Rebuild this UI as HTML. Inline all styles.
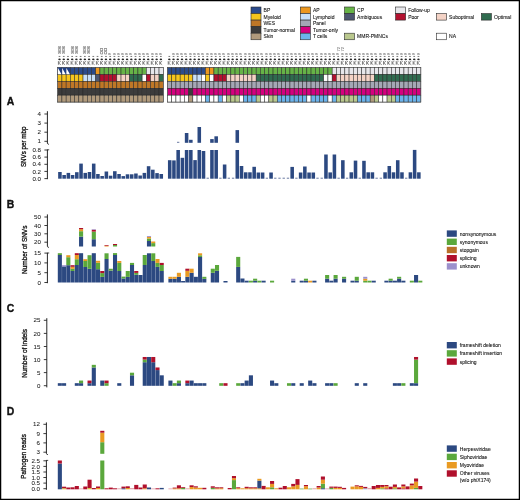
<!DOCTYPE html>
<html><head><meta charset="utf-8"><style>
html,body{margin:0;padding:0;background:#fff;}
body{width:520px;height:500px;overflow:hidden;position:relative;}
svg{position:absolute;left:0;top:0;display:block;will-change:transform;}
text{font-family:"Liberation Sans", sans-serif;}
</style></head><body>
<svg width="520" height="500" viewBox="0 0 520 500" font-family="Liberation Sans, sans-serif">
<rect x="0" y="0" width="520" height="500" fill="#fff"/>
<rect x="251.00" y="7.00" width="10.00" height="6.55" fill="#2b4b8c" stroke="#2a2a2a" stroke-width="0.6"/>
<text transform="translate(263.60,12.15) scale(0.88,1)" font-size="5.7" text-anchor="start" fill="#111" stroke="#111" stroke-width="0.09" font-weight="normal">BP</text>
<rect x="251.00" y="13.55" width="10.00" height="6.55" fill="#f5c51c" stroke="#2a2a2a" stroke-width="0.6"/>
<text transform="translate(263.60,18.70) scale(0.88,1)" font-size="5.7" text-anchor="start" fill="#111" stroke="#111" stroke-width="0.09" font-weight="normal">Myeloid</text>
<rect x="251.00" y="20.10" width="10.00" height="6.55" fill="#bf7726" stroke="#2a2a2a" stroke-width="0.6"/>
<text transform="translate(263.60,25.25) scale(0.88,1)" font-size="5.7" text-anchor="start" fill="#111" stroke="#111" stroke-width="0.09" font-weight="normal">WES</text>
<rect x="251.00" y="26.65" width="10.00" height="6.55" fill="#3c3c3c" stroke="#2a2a2a" stroke-width="0.6"/>
<text transform="translate(263.60,31.80) scale(0.88,1)" font-size="5.7" text-anchor="start" fill="#111" stroke="#111" stroke-width="0.09" font-weight="normal">Tumor-normal</text>
<rect x="251.00" y="33.20" width="10.00" height="6.55" fill="#b09a7c" stroke="#2a2a2a" stroke-width="0.6"/>
<text transform="translate(263.60,38.35) scale(0.88,1)" font-size="5.7" text-anchor="start" fill="#111" stroke="#111" stroke-width="0.09" font-weight="normal">Skin</text>
<rect x="300.30" y="7.00" width="10.00" height="6.55" fill="#ec971f" stroke="#2a2a2a" stroke-width="0.6"/>
<text transform="translate(312.90,12.15) scale(0.88,1)" font-size="5.7" text-anchor="start" fill="#111" stroke="#111" stroke-width="0.09" font-weight="normal">AP</text>
<rect x="300.30" y="13.55" width="10.00" height="6.55" fill="#c8e0f8" stroke="#2a2a2a" stroke-width="0.6"/>
<text transform="translate(312.90,18.70) scale(0.88,1)" font-size="5.7" text-anchor="start" fill="#111" stroke="#111" stroke-width="0.09" font-weight="normal">Lymphoid</text>
<rect x="300.30" y="20.10" width="10.00" height="6.55" fill="#a4a7b5" stroke="#2a2a2a" stroke-width="0.6"/>
<text transform="translate(312.90,25.25) scale(0.88,1)" font-size="5.7" text-anchor="start" fill="#111" stroke="#111" stroke-width="0.09" font-weight="normal">Panel</text>
<rect x="300.30" y="26.65" width="10.00" height="6.55" fill="#d5007f" stroke="#2a2a2a" stroke-width="0.6"/>
<text transform="translate(312.90,31.80) scale(0.88,1)" font-size="5.7" text-anchor="start" fill="#111" stroke="#111" stroke-width="0.09" font-weight="normal">Tumor-only</text>
<rect x="300.30" y="33.20" width="10.00" height="6.55" fill="#6cb3eb" stroke="#2a2a2a" stroke-width="0.6"/>
<text transform="translate(312.90,38.35) scale(0.88,1)" font-size="5.7" text-anchor="start" fill="#111" stroke="#111" stroke-width="0.09" font-weight="normal">T cells</text>
<rect x="344.50" y="7.00" width="10.00" height="6.55" fill="#66b347" stroke="#2a2a2a" stroke-width="0.6"/>
<text transform="translate(357.10,12.15) scale(0.88,1)" font-size="5.7" text-anchor="start" fill="#111" stroke="#111" stroke-width="0.09" font-weight="normal">CP</text>
<rect x="344.50" y="13.55" width="10.00" height="6.55" fill="#4c5670" stroke="#2a2a2a" stroke-width="0.6"/>
<text transform="translate(357.10,18.70) scale(0.88,1)" font-size="5.7" text-anchor="start" fill="#111" stroke="#111" stroke-width="0.09" font-weight="normal">Ambiguous</text>
<rect x="344.50" y="33.20" width="10.00" height="6.55" fill="#bac88e" stroke="#2a2a2a" stroke-width="0.6"/>
<text transform="translate(357.10,38.35) scale(0.88,1)" font-size="5.7" text-anchor="start" fill="#111" stroke="#111" stroke-width="0.09" font-weight="normal">MMR-PMNCs</text>
<rect x="395.60" y="7.00" width="10.00" height="6.55" fill="#e7e7eb" stroke="#2a2a2a" stroke-width="0.6"/>
<text transform="translate(408.20,12.15) scale(0.88,1)" font-size="5.7" text-anchor="start" fill="#111" stroke="#111" stroke-width="0.09" font-weight="normal">Follow-up</text>
<rect x="395.60" y="13.55" width="10.00" height="6.55" fill="#b3102f" stroke="#2a2a2a" stroke-width="0.6"/>
<text transform="translate(408.20,18.70) scale(0.88,1)" font-size="5.7" text-anchor="start" fill="#111" stroke="#111" stroke-width="0.09" font-weight="normal">Poor</text>
<rect x="436.50" y="13.55" width="10.00" height="6.55" fill="#f4d3c6" stroke="#2a2a2a" stroke-width="0.6"/>
<text transform="translate(449.10,18.70) scale(0.88,1)" font-size="5.7" text-anchor="start" fill="#111" stroke="#111" stroke-width="0.09" font-weight="normal">Suboptimal</text>
<rect x="481.40" y="13.55" width="10.00" height="6.55" fill="#2f6b4f" stroke="#2a2a2a" stroke-width="0.6"/>
<text transform="translate(494.00,18.70) scale(0.88,1)" font-size="5.7" text-anchor="start" fill="#111" stroke="#111" stroke-width="0.09" font-weight="normal">Optimal</text>
<rect x="436.50" y="33.20" width="10.00" height="6.55" fill="#ffffff" stroke="#2a2a2a" stroke-width="0.6"/>
<text transform="translate(449.10,38.35) scale(0.88,1)" font-size="5.7" text-anchor="start" fill="#111" stroke="#111" stroke-width="0.09" font-weight="normal">NA</text>
<rect x="57.70" y="67.50" width="4.22" height="6.92" fill="#2b4b8c" stroke="#262626" stroke-width="0.5"/>
<rect x="61.92" y="67.50" width="4.22" height="6.92" fill="#2b4b8c" stroke="#262626" stroke-width="0.5"/>
<rect x="66.15" y="67.50" width="4.22" height="6.92" fill="#2b4b8c" stroke="#262626" stroke-width="0.5"/>
<rect x="70.37" y="67.50" width="4.22" height="6.92" fill="#2b4b8c" stroke="#262626" stroke-width="0.5"/>
<rect x="74.59" y="67.50" width="4.22" height="6.92" fill="#2b4b8c" stroke="#262626" stroke-width="0.5"/>
<rect x="78.81" y="67.50" width="4.22" height="6.92" fill="#2b4b8c" stroke="#262626" stroke-width="0.5"/>
<rect x="83.03" y="67.50" width="4.22" height="6.92" fill="#2b4b8c" stroke="#262626" stroke-width="0.5"/>
<rect x="87.26" y="67.50" width="4.22" height="6.92" fill="#2b4b8c" stroke="#262626" stroke-width="0.5"/>
<rect x="91.48" y="67.50" width="4.22" height="6.92" fill="#2b4b8c" stroke="#262626" stroke-width="0.5"/>
<rect x="95.70" y="67.50" width="4.22" height="6.92" fill="#ec971f" stroke="#262626" stroke-width="0.5"/>
<rect x="99.93" y="67.50" width="4.22" height="6.92" fill="#66b347" stroke="#262626" stroke-width="0.5"/>
<rect x="104.15" y="67.50" width="4.22" height="6.92" fill="#66b347" stroke="#262626" stroke-width="0.5"/>
<rect x="108.37" y="67.50" width="4.22" height="6.92" fill="#66b347" stroke="#262626" stroke-width="0.5"/>
<rect x="112.59" y="67.50" width="4.22" height="6.92" fill="#66b347" stroke="#262626" stroke-width="0.5"/>
<rect x="116.81" y="67.50" width="4.22" height="6.92" fill="#66b347" stroke="#262626" stroke-width="0.5"/>
<rect x="121.04" y="67.50" width="4.22" height="6.92" fill="#66b347" stroke="#262626" stroke-width="0.5"/>
<rect x="125.26" y="67.50" width="4.22" height="6.92" fill="#66b347" stroke="#262626" stroke-width="0.5"/>
<rect x="129.48" y="67.50" width="4.22" height="6.92" fill="#66b347" stroke="#262626" stroke-width="0.5"/>
<rect x="133.70" y="67.50" width="4.22" height="6.92" fill="#66b347" stroke="#262626" stroke-width="0.5"/>
<rect x="137.93" y="67.50" width="4.22" height="6.92" fill="#66b347" stroke="#262626" stroke-width="0.5"/>
<rect x="142.15" y="67.50" width="4.22" height="6.92" fill="#66b347" stroke="#262626" stroke-width="0.5"/>
<rect x="146.37" y="67.50" width="4.22" height="6.92" fill="#e7e7eb" stroke="#262626" stroke-width="0.5"/>
<rect x="150.60" y="67.50" width="4.22" height="6.92" fill="#e7e7eb" stroke="#262626" stroke-width="0.5"/>
<rect x="154.82" y="67.50" width="4.22" height="6.92" fill="#e7e7eb" stroke="#262626" stroke-width="0.5"/>
<rect x="159.04" y="67.50" width="4.22" height="6.92" fill="#e7e7eb" stroke="#262626" stroke-width="0.5"/>
<rect x="57.70" y="74.42" width="4.22" height="6.92" fill="#f5c51c" stroke="#262626" stroke-width="0.5"/>
<rect x="61.92" y="74.42" width="4.22" height="6.92" fill="#f5c51c" stroke="#262626" stroke-width="0.5"/>
<rect x="66.15" y="74.42" width="4.22" height="6.92" fill="#f5c51c" stroke="#262626" stroke-width="0.5"/>
<rect x="70.37" y="74.42" width="4.22" height="6.92" fill="#f5c51c" stroke="#262626" stroke-width="0.5"/>
<rect x="74.59" y="74.42" width="4.22" height="6.92" fill="#f5c51c" stroke="#262626" stroke-width="0.5"/>
<rect x="78.81" y="74.42" width="4.22" height="6.92" fill="#f5c51c" stroke="#262626" stroke-width="0.5"/>
<rect x="83.03" y="74.42" width="4.22" height="6.92" fill="#c8e0f8" stroke="#262626" stroke-width="0.5"/>
<rect x="87.26" y="74.42" width="4.22" height="6.92" fill="#c8e0f8" stroke="#262626" stroke-width="0.5"/>
<rect x="91.48" y="74.42" width="4.22" height="6.92" fill="#c8e0f8" stroke="#262626" stroke-width="0.5"/>
<rect x="95.70" y="74.42" width="4.22" height="6.92" fill="#4c5670" stroke="#262626" stroke-width="0.5"/>
<rect x="99.93" y="74.42" width="4.22" height="6.92" fill="#b3102f" stroke="#262626" stroke-width="0.5"/>
<rect x="104.15" y="74.42" width="4.22" height="6.92" fill="#b3102f" stroke="#262626" stroke-width="0.5"/>
<rect x="108.37" y="74.42" width="4.22" height="6.92" fill="#b3102f" stroke="#262626" stroke-width="0.5"/>
<rect x="112.59" y="74.42" width="4.22" height="6.92" fill="#b3102f" stroke="#262626" stroke-width="0.5"/>
<rect x="116.81" y="74.42" width="4.22" height="6.92" fill="#f4d3c6" stroke="#262626" stroke-width="0.5"/>
<rect x="121.04" y="74.42" width="4.22" height="6.92" fill="#f4d3c6" stroke="#262626" stroke-width="0.5"/>
<rect x="125.26" y="74.42" width="4.22" height="6.92" fill="#f4d3c6" stroke="#262626" stroke-width="0.5"/>
<rect x="129.48" y="74.42" width="4.22" height="6.92" fill="#2f6b4f" stroke="#262626" stroke-width="0.5"/>
<rect x="133.70" y="74.42" width="4.22" height="6.92" fill="#2f6b4f" stroke="#262626" stroke-width="0.5"/>
<rect x="137.93" y="74.42" width="4.22" height="6.92" fill="#2f6b4f" stroke="#262626" stroke-width="0.5"/>
<rect x="142.15" y="74.42" width="4.22" height="6.92" fill="#ffffff" stroke="#262626" stroke-width="0.5"/>
<rect x="146.37" y="74.42" width="4.22" height="6.92" fill="#b3102f" stroke="#262626" stroke-width="0.5"/>
<rect x="150.60" y="74.42" width="4.22" height="6.92" fill="#f4d3c6" stroke="#262626" stroke-width="0.5"/>
<rect x="154.82" y="74.42" width="4.22" height="6.92" fill="#f4d3c6" stroke="#262626" stroke-width="0.5"/>
<rect x="159.04" y="74.42" width="4.22" height="6.92" fill="#2f6b4f" stroke="#262626" stroke-width="0.5"/>
<rect x="57.70" y="81.34" width="4.22" height="6.92" fill="#bf7726" stroke="#262626" stroke-width="0.5"/>
<rect x="61.92" y="81.34" width="4.22" height="6.92" fill="#bf7726" stroke="#262626" stroke-width="0.5"/>
<rect x="66.15" y="81.34" width="4.22" height="6.92" fill="#bf7726" stroke="#262626" stroke-width="0.5"/>
<rect x="70.37" y="81.34" width="4.22" height="6.92" fill="#bf7726" stroke="#262626" stroke-width="0.5"/>
<rect x="74.59" y="81.34" width="4.22" height="6.92" fill="#bf7726" stroke="#262626" stroke-width="0.5"/>
<rect x="78.81" y="81.34" width="4.22" height="6.92" fill="#bf7726" stroke="#262626" stroke-width="0.5"/>
<rect x="83.03" y="81.34" width="4.22" height="6.92" fill="#bf7726" stroke="#262626" stroke-width="0.5"/>
<rect x="87.26" y="81.34" width="4.22" height="6.92" fill="#bf7726" stroke="#262626" stroke-width="0.5"/>
<rect x="91.48" y="81.34" width="4.22" height="6.92" fill="#bf7726" stroke="#262626" stroke-width="0.5"/>
<rect x="95.70" y="81.34" width="4.22" height="6.92" fill="#bf7726" stroke="#262626" stroke-width="0.5"/>
<rect x="99.93" y="81.34" width="4.22" height="6.92" fill="#bf7726" stroke="#262626" stroke-width="0.5"/>
<rect x="104.15" y="81.34" width="4.22" height="6.92" fill="#bf7726" stroke="#262626" stroke-width="0.5"/>
<rect x="108.37" y="81.34" width="4.22" height="6.92" fill="#bf7726" stroke="#262626" stroke-width="0.5"/>
<rect x="112.59" y="81.34" width="4.22" height="6.92" fill="#bf7726" stroke="#262626" stroke-width="0.5"/>
<rect x="116.81" y="81.34" width="4.22" height="6.92" fill="#bf7726" stroke="#262626" stroke-width="0.5"/>
<rect x="121.04" y="81.34" width="4.22" height="6.92" fill="#bf7726" stroke="#262626" stroke-width="0.5"/>
<rect x="125.26" y="81.34" width="4.22" height="6.92" fill="#bf7726" stroke="#262626" stroke-width="0.5"/>
<rect x="129.48" y="81.34" width="4.22" height="6.92" fill="#bf7726" stroke="#262626" stroke-width="0.5"/>
<rect x="133.70" y="81.34" width="4.22" height="6.92" fill="#bf7726" stroke="#262626" stroke-width="0.5"/>
<rect x="137.93" y="81.34" width="4.22" height="6.92" fill="#bf7726" stroke="#262626" stroke-width="0.5"/>
<rect x="142.15" y="81.34" width="4.22" height="6.92" fill="#bf7726" stroke="#262626" stroke-width="0.5"/>
<rect x="146.37" y="81.34" width="4.22" height="6.92" fill="#bf7726" stroke="#262626" stroke-width="0.5"/>
<rect x="150.60" y="81.34" width="4.22" height="6.92" fill="#bf7726" stroke="#262626" stroke-width="0.5"/>
<rect x="154.82" y="81.34" width="4.22" height="6.92" fill="#bf7726" stroke="#262626" stroke-width="0.5"/>
<rect x="159.04" y="81.34" width="4.22" height="6.92" fill="#bf7726" stroke="#262626" stroke-width="0.5"/>
<rect x="57.70" y="88.26" width="4.22" height="6.92" fill="#3c3c3c" stroke="#262626" stroke-width="0.5"/>
<rect x="61.92" y="88.26" width="4.22" height="6.92" fill="#3c3c3c" stroke="#262626" stroke-width="0.5"/>
<rect x="66.15" y="88.26" width="4.22" height="6.92" fill="#3c3c3c" stroke="#262626" stroke-width="0.5"/>
<rect x="70.37" y="88.26" width="4.22" height="6.92" fill="#3c3c3c" stroke="#262626" stroke-width="0.5"/>
<rect x="74.59" y="88.26" width="4.22" height="6.92" fill="#3c3c3c" stroke="#262626" stroke-width="0.5"/>
<rect x="78.81" y="88.26" width="4.22" height="6.92" fill="#3c3c3c" stroke="#262626" stroke-width="0.5"/>
<rect x="83.03" y="88.26" width="4.22" height="6.92" fill="#3c3c3c" stroke="#262626" stroke-width="0.5"/>
<rect x="87.26" y="88.26" width="4.22" height="6.92" fill="#3c3c3c" stroke="#262626" stroke-width="0.5"/>
<rect x="91.48" y="88.26" width="4.22" height="6.92" fill="#3c3c3c" stroke="#262626" stroke-width="0.5"/>
<rect x="95.70" y="88.26" width="4.22" height="6.92" fill="#3c3c3c" stroke="#262626" stroke-width="0.5"/>
<rect x="99.93" y="88.26" width="4.22" height="6.92" fill="#3c3c3c" stroke="#262626" stroke-width="0.5"/>
<rect x="104.15" y="88.26" width="4.22" height="6.92" fill="#3c3c3c" stroke="#262626" stroke-width="0.5"/>
<rect x="108.37" y="88.26" width="4.22" height="6.92" fill="#3c3c3c" stroke="#262626" stroke-width="0.5"/>
<rect x="112.59" y="88.26" width="4.22" height="6.92" fill="#3c3c3c" stroke="#262626" stroke-width="0.5"/>
<rect x="116.81" y="88.26" width="4.22" height="6.92" fill="#3c3c3c" stroke="#262626" stroke-width="0.5"/>
<rect x="121.04" y="88.26" width="4.22" height="6.92" fill="#3c3c3c" stroke="#262626" stroke-width="0.5"/>
<rect x="125.26" y="88.26" width="4.22" height="6.92" fill="#3c3c3c" stroke="#262626" stroke-width="0.5"/>
<rect x="129.48" y="88.26" width="4.22" height="6.92" fill="#3c3c3c" stroke="#262626" stroke-width="0.5"/>
<rect x="133.70" y="88.26" width="4.22" height="6.92" fill="#3c3c3c" stroke="#262626" stroke-width="0.5"/>
<rect x="137.93" y="88.26" width="4.22" height="6.92" fill="#3c3c3c" stroke="#262626" stroke-width="0.5"/>
<rect x="142.15" y="88.26" width="4.22" height="6.92" fill="#3c3c3c" stroke="#262626" stroke-width="0.5"/>
<rect x="146.37" y="88.26" width="4.22" height="6.92" fill="#3c3c3c" stroke="#262626" stroke-width="0.5"/>
<rect x="150.60" y="88.26" width="4.22" height="6.92" fill="#3c3c3c" stroke="#262626" stroke-width="0.5"/>
<rect x="154.82" y="88.26" width="4.22" height="6.92" fill="#3c3c3c" stroke="#262626" stroke-width="0.5"/>
<rect x="159.04" y="88.26" width="4.22" height="6.92" fill="#3c3c3c" stroke="#262626" stroke-width="0.5"/>
<rect x="57.70" y="95.18" width="4.22" height="6.92" fill="#b09a7c" stroke="#262626" stroke-width="0.5"/>
<rect x="61.92" y="95.18" width="4.22" height="6.92" fill="#b09a7c" stroke="#262626" stroke-width="0.5"/>
<rect x="66.15" y="95.18" width="4.22" height="6.92" fill="#b09a7c" stroke="#262626" stroke-width="0.5"/>
<rect x="70.37" y="95.18" width="4.22" height="6.92" fill="#b09a7c" stroke="#262626" stroke-width="0.5"/>
<rect x="74.59" y="95.18" width="4.22" height="6.92" fill="#b09a7c" stroke="#262626" stroke-width="0.5"/>
<rect x="78.81" y="95.18" width="4.22" height="6.92" fill="#b09a7c" stroke="#262626" stroke-width="0.5"/>
<rect x="83.03" y="95.18" width="4.22" height="6.92" fill="#b09a7c" stroke="#262626" stroke-width="0.5"/>
<rect x="87.26" y="95.18" width="4.22" height="6.92" fill="#b09a7c" stroke="#262626" stroke-width="0.5"/>
<rect x="91.48" y="95.18" width="4.22" height="6.92" fill="#b09a7c" stroke="#262626" stroke-width="0.5"/>
<rect x="95.70" y="95.18" width="4.22" height="6.92" fill="#b09a7c" stroke="#262626" stroke-width="0.5"/>
<rect x="99.93" y="95.18" width="4.22" height="6.92" fill="#b09a7c" stroke="#262626" stroke-width="0.5"/>
<rect x="104.15" y="95.18" width="4.22" height="6.92" fill="#b09a7c" stroke="#262626" stroke-width="0.5"/>
<rect x="108.37" y="95.18" width="4.22" height="6.92" fill="#b09a7c" stroke="#262626" stroke-width="0.5"/>
<rect x="112.59" y="95.18" width="4.22" height="6.92" fill="#b09a7c" stroke="#262626" stroke-width="0.5"/>
<rect x="116.81" y="95.18" width="4.22" height="6.92" fill="#b09a7c" stroke="#262626" stroke-width="0.5"/>
<rect x="121.04" y="95.18" width="4.22" height="6.92" fill="#b09a7c" stroke="#262626" stroke-width="0.5"/>
<rect x="125.26" y="95.18" width="4.22" height="6.92" fill="#b09a7c" stroke="#262626" stroke-width="0.5"/>
<rect x="129.48" y="95.18" width="4.22" height="6.92" fill="#b09a7c" stroke="#262626" stroke-width="0.5"/>
<rect x="133.70" y="95.18" width="4.22" height="6.92" fill="#b09a7c" stroke="#262626" stroke-width="0.5"/>
<rect x="137.93" y="95.18" width="4.22" height="6.92" fill="#b09a7c" stroke="#262626" stroke-width="0.5"/>
<rect x="142.15" y="95.18" width="4.22" height="6.92" fill="#b09a7c" stroke="#262626" stroke-width="0.5"/>
<rect x="146.37" y="95.18" width="4.22" height="6.92" fill="#b09a7c" stroke="#262626" stroke-width="0.5"/>
<rect x="150.60" y="95.18" width="4.22" height="6.92" fill="#b09a7c" stroke="#262626" stroke-width="0.5"/>
<rect x="154.82" y="95.18" width="4.22" height="6.92" fill="#b09a7c" stroke="#262626" stroke-width="0.5"/>
<rect x="159.04" y="95.18" width="4.22" height="6.92" fill="#b09a7c" stroke="#262626" stroke-width="0.5"/>
<rect x="57.70" y="67.50" width="105.56" height="34.60" fill="none" stroke="#555" stroke-width="0.5"/>
<rect x="167.50" y="67.50" width="4.22" height="6.92" fill="#2b4b8c" stroke="#262626" stroke-width="0.5"/>
<rect x="171.72" y="67.50" width="4.22" height="6.92" fill="#2b4b8c" stroke="#262626" stroke-width="0.5"/>
<rect x="175.94" y="67.50" width="4.22" height="6.92" fill="#2b4b8c" stroke="#262626" stroke-width="0.5"/>
<rect x="180.17" y="67.50" width="4.22" height="6.92" fill="#2b4b8c" stroke="#262626" stroke-width="0.5"/>
<rect x="184.39" y="67.50" width="4.22" height="6.92" fill="#2b4b8c" stroke="#262626" stroke-width="0.5"/>
<rect x="188.61" y="67.50" width="4.22" height="6.92" fill="#2b4b8c" stroke="#262626" stroke-width="0.5"/>
<rect x="192.84" y="67.50" width="4.22" height="6.92" fill="#2b4b8c" stroke="#262626" stroke-width="0.5"/>
<rect x="197.06" y="67.50" width="4.22" height="6.92" fill="#2b4b8c" stroke="#262626" stroke-width="0.5"/>
<rect x="201.28" y="67.50" width="4.22" height="6.92" fill="#2b4b8c" stroke="#262626" stroke-width="0.5"/>
<rect x="205.50" y="67.50" width="4.22" height="6.92" fill="#ec971f" stroke="#262626" stroke-width="0.5"/>
<rect x="209.72" y="67.50" width="4.22" height="6.92" fill="#ec971f" stroke="#262626" stroke-width="0.5"/>
<rect x="213.95" y="67.50" width="4.22" height="6.92" fill="#66b347" stroke="#262626" stroke-width="0.5"/>
<rect x="218.17" y="67.50" width="4.22" height="6.92" fill="#66b347" stroke="#262626" stroke-width="0.5"/>
<rect x="222.39" y="67.50" width="4.22" height="6.92" fill="#66b347" stroke="#262626" stroke-width="0.5"/>
<rect x="226.62" y="67.50" width="4.22" height="6.92" fill="#66b347" stroke="#262626" stroke-width="0.5"/>
<rect x="230.84" y="67.50" width="4.22" height="6.92" fill="#66b347" stroke="#262626" stroke-width="0.5"/>
<rect x="235.06" y="67.50" width="4.22" height="6.92" fill="#66b347" stroke="#262626" stroke-width="0.5"/>
<rect x="239.28" y="67.50" width="4.22" height="6.92" fill="#66b347" stroke="#262626" stroke-width="0.5"/>
<rect x="243.50" y="67.50" width="4.22" height="6.92" fill="#66b347" stroke="#262626" stroke-width="0.5"/>
<rect x="247.73" y="67.50" width="4.22" height="6.92" fill="#66b347" stroke="#262626" stroke-width="0.5"/>
<rect x="251.95" y="67.50" width="4.22" height="6.92" fill="#66b347" stroke="#262626" stroke-width="0.5"/>
<rect x="256.17" y="67.50" width="4.22" height="6.92" fill="#66b347" stroke="#262626" stroke-width="0.5"/>
<rect x="260.39" y="67.50" width="4.22" height="6.92" fill="#66b347" stroke="#262626" stroke-width="0.5"/>
<rect x="264.62" y="67.50" width="4.22" height="6.92" fill="#66b347" stroke="#262626" stroke-width="0.5"/>
<rect x="268.84" y="67.50" width="4.22" height="6.92" fill="#66b347" stroke="#262626" stroke-width="0.5"/>
<rect x="273.06" y="67.50" width="4.22" height="6.92" fill="#66b347" stroke="#262626" stroke-width="0.5"/>
<rect x="277.28" y="67.50" width="4.22" height="6.92" fill="#66b347" stroke="#262626" stroke-width="0.5"/>
<rect x="281.51" y="67.50" width="4.22" height="6.92" fill="#66b347" stroke="#262626" stroke-width="0.5"/>
<rect x="285.73" y="67.50" width="4.22" height="6.92" fill="#66b347" stroke="#262626" stroke-width="0.5"/>
<rect x="289.95" y="67.50" width="4.22" height="6.92" fill="#66b347" stroke="#262626" stroke-width="0.5"/>
<rect x="294.18" y="67.50" width="4.22" height="6.92" fill="#66b347" stroke="#262626" stroke-width="0.5"/>
<rect x="298.40" y="67.50" width="4.22" height="6.92" fill="#66b347" stroke="#262626" stroke-width="0.5"/>
<rect x="302.62" y="67.50" width="4.22" height="6.92" fill="#66b347" stroke="#262626" stroke-width="0.5"/>
<rect x="306.84" y="67.50" width="4.22" height="6.92" fill="#66b347" stroke="#262626" stroke-width="0.5"/>
<rect x="311.06" y="67.50" width="4.22" height="6.92" fill="#66b347" stroke="#262626" stroke-width="0.5"/>
<rect x="315.29" y="67.50" width="4.22" height="6.92" fill="#66b347" stroke="#262626" stroke-width="0.5"/>
<rect x="319.51" y="67.50" width="4.22" height="6.92" fill="#66b347" stroke="#262626" stroke-width="0.5"/>
<rect x="323.73" y="67.50" width="4.22" height="6.92" fill="#66b347" stroke="#262626" stroke-width="0.5"/>
<rect x="327.96" y="67.50" width="4.22" height="6.92" fill="#66b347" stroke="#262626" stroke-width="0.5"/>
<rect x="332.18" y="67.50" width="4.22" height="6.92" fill="#e7e7eb" stroke="#262626" stroke-width="0.5"/>
<rect x="336.40" y="67.50" width="4.22" height="6.92" fill="#e7e7eb" stroke="#262626" stroke-width="0.5"/>
<rect x="340.62" y="67.50" width="4.22" height="6.92" fill="#e7e7eb" stroke="#262626" stroke-width="0.5"/>
<rect x="344.85" y="67.50" width="4.22" height="6.92" fill="#e7e7eb" stroke="#262626" stroke-width="0.5"/>
<rect x="349.07" y="67.50" width="4.22" height="6.92" fill="#e7e7eb" stroke="#262626" stroke-width="0.5"/>
<rect x="353.29" y="67.50" width="4.22" height="6.92" fill="#e7e7eb" stroke="#262626" stroke-width="0.5"/>
<rect x="357.51" y="67.50" width="4.22" height="6.92" fill="#e7e7eb" stroke="#262626" stroke-width="0.5"/>
<rect x="361.74" y="67.50" width="4.22" height="6.92" fill="#e7e7eb" stroke="#262626" stroke-width="0.5"/>
<rect x="365.96" y="67.50" width="4.22" height="6.92" fill="#e7e7eb" stroke="#262626" stroke-width="0.5"/>
<rect x="370.18" y="67.50" width="4.22" height="6.92" fill="#e7e7eb" stroke="#262626" stroke-width="0.5"/>
<rect x="374.40" y="67.50" width="4.22" height="6.92" fill="#e7e7eb" stroke="#262626" stroke-width="0.5"/>
<rect x="378.62" y="67.50" width="4.22" height="6.92" fill="#e7e7eb" stroke="#262626" stroke-width="0.5"/>
<rect x="382.85" y="67.50" width="4.22" height="6.92" fill="#e7e7eb" stroke="#262626" stroke-width="0.5"/>
<rect x="387.07" y="67.50" width="4.22" height="6.92" fill="#e7e7eb" stroke="#262626" stroke-width="0.5"/>
<rect x="391.29" y="67.50" width="4.22" height="6.92" fill="#e7e7eb" stroke="#262626" stroke-width="0.5"/>
<rect x="395.51" y="67.50" width="4.22" height="6.92" fill="#e7e7eb" stroke="#262626" stroke-width="0.5"/>
<rect x="399.74" y="67.50" width="4.22" height="6.92" fill="#e7e7eb" stroke="#262626" stroke-width="0.5"/>
<rect x="403.96" y="67.50" width="4.22" height="6.92" fill="#e7e7eb" stroke="#262626" stroke-width="0.5"/>
<rect x="408.18" y="67.50" width="4.22" height="6.92" fill="#e7e7eb" stroke="#262626" stroke-width="0.5"/>
<rect x="412.40" y="67.50" width="4.22" height="6.92" fill="#e7e7eb" stroke="#262626" stroke-width="0.5"/>
<rect x="416.63" y="67.50" width="4.22" height="6.92" fill="#e7e7eb" stroke="#262626" stroke-width="0.5"/>
<rect x="167.50" y="74.42" width="4.22" height="6.92" fill="#f5c51c" stroke="#262626" stroke-width="0.5"/>
<rect x="171.72" y="74.42" width="4.22" height="6.92" fill="#f5c51c" stroke="#262626" stroke-width="0.5"/>
<rect x="175.94" y="74.42" width="4.22" height="6.92" fill="#f5c51c" stroke="#262626" stroke-width="0.5"/>
<rect x="180.17" y="74.42" width="4.22" height="6.92" fill="#f5c51c" stroke="#262626" stroke-width="0.5"/>
<rect x="184.39" y="74.42" width="4.22" height="6.92" fill="#f5c51c" stroke="#262626" stroke-width="0.5"/>
<rect x="188.61" y="74.42" width="4.22" height="6.92" fill="#f5c51c" stroke="#262626" stroke-width="0.5"/>
<rect x="192.84" y="74.42" width="4.22" height="6.92" fill="#c8e0f8" stroke="#262626" stroke-width="0.5"/>
<rect x="197.06" y="74.42" width="4.22" height="6.92" fill="#c8e0f8" stroke="#262626" stroke-width="0.5"/>
<rect x="201.28" y="74.42" width="4.22" height="6.92" fill="#ffffff" stroke="#262626" stroke-width="0.5"/>
<rect x="205.50" y="74.42" width="4.22" height="6.92" fill="#f5c51c" stroke="#262626" stroke-width="0.5"/>
<rect x="209.72" y="74.42" width="4.22" height="6.92" fill="#ffffff" stroke="#262626" stroke-width="0.5"/>
<rect x="213.95" y="74.42" width="4.22" height="6.92" fill="#b3102f" stroke="#262626" stroke-width="0.5"/>
<rect x="218.17" y="74.42" width="4.22" height="6.92" fill="#b3102f" stroke="#262626" stroke-width="0.5"/>
<rect x="222.39" y="74.42" width="4.22" height="6.92" fill="#b3102f" stroke="#262626" stroke-width="0.5"/>
<rect x="226.62" y="74.42" width="4.22" height="6.92" fill="#f4d3c6" stroke="#262626" stroke-width="0.5"/>
<rect x="230.84" y="74.42" width="4.22" height="6.92" fill="#f4d3c6" stroke="#262626" stroke-width="0.5"/>
<rect x="235.06" y="74.42" width="4.22" height="6.92" fill="#f4d3c6" stroke="#262626" stroke-width="0.5"/>
<rect x="239.28" y="74.42" width="4.22" height="6.92" fill="#f4d3c6" stroke="#262626" stroke-width="0.5"/>
<rect x="243.50" y="74.42" width="4.22" height="6.92" fill="#f4d3c6" stroke="#262626" stroke-width="0.5"/>
<rect x="247.73" y="74.42" width="4.22" height="6.92" fill="#f4d3c6" stroke="#262626" stroke-width="0.5"/>
<rect x="251.95" y="74.42" width="4.22" height="6.92" fill="#f4d3c6" stroke="#262626" stroke-width="0.5"/>
<rect x="256.17" y="74.42" width="4.22" height="6.92" fill="#2f6b4f" stroke="#262626" stroke-width="0.5"/>
<rect x="260.39" y="74.42" width="4.22" height="6.92" fill="#2f6b4f" stroke="#262626" stroke-width="0.5"/>
<rect x="264.62" y="74.42" width="4.22" height="6.92" fill="#2f6b4f" stroke="#262626" stroke-width="0.5"/>
<rect x="268.84" y="74.42" width="4.22" height="6.92" fill="#2f6b4f" stroke="#262626" stroke-width="0.5"/>
<rect x="273.06" y="74.42" width="4.22" height="6.92" fill="#2f6b4f" stroke="#262626" stroke-width="0.5"/>
<rect x="277.28" y="74.42" width="4.22" height="6.92" fill="#2f6b4f" stroke="#262626" stroke-width="0.5"/>
<rect x="281.51" y="74.42" width="4.22" height="6.92" fill="#2f6b4f" stroke="#262626" stroke-width="0.5"/>
<rect x="285.73" y="74.42" width="4.22" height="6.92" fill="#2f6b4f" stroke="#262626" stroke-width="0.5"/>
<rect x="289.95" y="74.42" width="4.22" height="6.92" fill="#2f6b4f" stroke="#262626" stroke-width="0.5"/>
<rect x="294.18" y="74.42" width="4.22" height="6.92" fill="#2f6b4f" stroke="#262626" stroke-width="0.5"/>
<rect x="298.40" y="74.42" width="4.22" height="6.92" fill="#2f6b4f" stroke="#262626" stroke-width="0.5"/>
<rect x="302.62" y="74.42" width="4.22" height="6.92" fill="#2f6b4f" stroke="#262626" stroke-width="0.5"/>
<rect x="306.84" y="74.42" width="4.22" height="6.92" fill="#2f6b4f" stroke="#262626" stroke-width="0.5"/>
<rect x="311.06" y="74.42" width="4.22" height="6.92" fill="#2f6b4f" stroke="#262626" stroke-width="0.5"/>
<rect x="315.29" y="74.42" width="4.22" height="6.92" fill="#2f6b4f" stroke="#262626" stroke-width="0.5"/>
<rect x="319.51" y="74.42" width="4.22" height="6.92" fill="#2f6b4f" stroke="#262626" stroke-width="0.5"/>
<rect x="323.73" y="74.42" width="4.22" height="6.92" fill="#ffffff" stroke="#262626" stroke-width="0.5"/>
<rect x="327.96" y="74.42" width="4.22" height="6.92" fill="#ffffff" stroke="#262626" stroke-width="0.5"/>
<rect x="332.18" y="74.42" width="4.22" height="6.92" fill="#b3102f" stroke="#262626" stroke-width="0.5"/>
<rect x="336.40" y="74.42" width="4.22" height="6.92" fill="#f4d3c6" stroke="#262626" stroke-width="0.5"/>
<rect x="340.62" y="74.42" width="4.22" height="6.92" fill="#f4d3c6" stroke="#262626" stroke-width="0.5"/>
<rect x="344.85" y="74.42" width="4.22" height="6.92" fill="#f4d3c6" stroke="#262626" stroke-width="0.5"/>
<rect x="349.07" y="74.42" width="4.22" height="6.92" fill="#f4d3c6" stroke="#262626" stroke-width="0.5"/>
<rect x="353.29" y="74.42" width="4.22" height="6.92" fill="#f4d3c6" stroke="#262626" stroke-width="0.5"/>
<rect x="357.51" y="74.42" width="4.22" height="6.92" fill="#f4d3c6" stroke="#262626" stroke-width="0.5"/>
<rect x="361.74" y="74.42" width="4.22" height="6.92" fill="#f4d3c6" stroke="#262626" stroke-width="0.5"/>
<rect x="365.96" y="74.42" width="4.22" height="6.92" fill="#f4d3c6" stroke="#262626" stroke-width="0.5"/>
<rect x="370.18" y="74.42" width="4.22" height="6.92" fill="#f4d3c6" stroke="#262626" stroke-width="0.5"/>
<rect x="374.40" y="74.42" width="4.22" height="6.92" fill="#2f6b4f" stroke="#262626" stroke-width="0.5"/>
<rect x="378.62" y="74.42" width="4.22" height="6.92" fill="#2f6b4f" stroke="#262626" stroke-width="0.5"/>
<rect x="382.85" y="74.42" width="4.22" height="6.92" fill="#2f6b4f" stroke="#262626" stroke-width="0.5"/>
<rect x="387.07" y="74.42" width="4.22" height="6.92" fill="#2f6b4f" stroke="#262626" stroke-width="0.5"/>
<rect x="391.29" y="74.42" width="4.22" height="6.92" fill="#2f6b4f" stroke="#262626" stroke-width="0.5"/>
<rect x="395.51" y="74.42" width="4.22" height="6.92" fill="#2f6b4f" stroke="#262626" stroke-width="0.5"/>
<rect x="399.74" y="74.42" width="4.22" height="6.92" fill="#2f6b4f" stroke="#262626" stroke-width="0.5"/>
<rect x="403.96" y="74.42" width="4.22" height="6.92" fill="#2f6b4f" stroke="#262626" stroke-width="0.5"/>
<rect x="408.18" y="74.42" width="4.22" height="6.92" fill="#2f6b4f" stroke="#262626" stroke-width="0.5"/>
<rect x="412.40" y="74.42" width="4.22" height="6.92" fill="#2f6b4f" stroke="#262626" stroke-width="0.5"/>
<rect x="416.63" y="74.42" width="4.22" height="6.92" fill="#2f6b4f" stroke="#262626" stroke-width="0.5"/>
<rect x="167.50" y="81.34" width="4.22" height="6.92" fill="#a4a7b5" stroke="#262626" stroke-width="0.5"/>
<rect x="171.72" y="81.34" width="4.22" height="6.92" fill="#a4a7b5" stroke="#262626" stroke-width="0.5"/>
<rect x="175.94" y="81.34" width="4.22" height="6.92" fill="#a4a7b5" stroke="#262626" stroke-width="0.5"/>
<rect x="180.17" y="81.34" width="4.22" height="6.92" fill="#a4a7b5" stroke="#262626" stroke-width="0.5"/>
<rect x="184.39" y="81.34" width="4.22" height="6.92" fill="#a4a7b5" stroke="#262626" stroke-width="0.5"/>
<rect x="188.61" y="81.34" width="4.22" height="6.92" fill="#a4a7b5" stroke="#262626" stroke-width="0.5"/>
<rect x="192.84" y="81.34" width="4.22" height="6.92" fill="#a4a7b5" stroke="#262626" stroke-width="0.5"/>
<rect x="197.06" y="81.34" width="4.22" height="6.92" fill="#a4a7b5" stroke="#262626" stroke-width="0.5"/>
<rect x="201.28" y="81.34" width="4.22" height="6.92" fill="#a4a7b5" stroke="#262626" stroke-width="0.5"/>
<rect x="205.50" y="81.34" width="4.22" height="6.92" fill="#a4a7b5" stroke="#262626" stroke-width="0.5"/>
<rect x="209.72" y="81.34" width="4.22" height="6.92" fill="#a4a7b5" stroke="#262626" stroke-width="0.5"/>
<rect x="213.95" y="81.34" width="4.22" height="6.92" fill="#a4a7b5" stroke="#262626" stroke-width="0.5"/>
<rect x="218.17" y="81.34" width="4.22" height="6.92" fill="#a4a7b5" stroke="#262626" stroke-width="0.5"/>
<rect x="222.39" y="81.34" width="4.22" height="6.92" fill="#a4a7b5" stroke="#262626" stroke-width="0.5"/>
<rect x="226.62" y="81.34" width="4.22" height="6.92" fill="#a4a7b5" stroke="#262626" stroke-width="0.5"/>
<rect x="230.84" y="81.34" width="4.22" height="6.92" fill="#a4a7b5" stroke="#262626" stroke-width="0.5"/>
<rect x="235.06" y="81.34" width="4.22" height="6.92" fill="#a4a7b5" stroke="#262626" stroke-width="0.5"/>
<rect x="239.28" y="81.34" width="4.22" height="6.92" fill="#a4a7b5" stroke="#262626" stroke-width="0.5"/>
<rect x="243.50" y="81.34" width="4.22" height="6.92" fill="#a4a7b5" stroke="#262626" stroke-width="0.5"/>
<rect x="247.73" y="81.34" width="4.22" height="6.92" fill="#a4a7b5" stroke="#262626" stroke-width="0.5"/>
<rect x="251.95" y="81.34" width="4.22" height="6.92" fill="#a4a7b5" stroke="#262626" stroke-width="0.5"/>
<rect x="256.17" y="81.34" width="4.22" height="6.92" fill="#a4a7b5" stroke="#262626" stroke-width="0.5"/>
<rect x="260.39" y="81.34" width="4.22" height="6.92" fill="#a4a7b5" stroke="#262626" stroke-width="0.5"/>
<rect x="264.62" y="81.34" width="4.22" height="6.92" fill="#a4a7b5" stroke="#262626" stroke-width="0.5"/>
<rect x="268.84" y="81.34" width="4.22" height="6.92" fill="#a4a7b5" stroke="#262626" stroke-width="0.5"/>
<rect x="273.06" y="81.34" width="4.22" height="6.92" fill="#a4a7b5" stroke="#262626" stroke-width="0.5"/>
<rect x="277.28" y="81.34" width="4.22" height="6.92" fill="#a4a7b5" stroke="#262626" stroke-width="0.5"/>
<rect x="281.51" y="81.34" width="4.22" height="6.92" fill="#a4a7b5" stroke="#262626" stroke-width="0.5"/>
<rect x="285.73" y="81.34" width="4.22" height="6.92" fill="#a4a7b5" stroke="#262626" stroke-width="0.5"/>
<rect x="289.95" y="81.34" width="4.22" height="6.92" fill="#a4a7b5" stroke="#262626" stroke-width="0.5"/>
<rect x="294.18" y="81.34" width="4.22" height="6.92" fill="#a4a7b5" stroke="#262626" stroke-width="0.5"/>
<rect x="298.40" y="81.34" width="4.22" height="6.92" fill="#a4a7b5" stroke="#262626" stroke-width="0.5"/>
<rect x="302.62" y="81.34" width="4.22" height="6.92" fill="#a4a7b5" stroke="#262626" stroke-width="0.5"/>
<rect x="306.84" y="81.34" width="4.22" height="6.92" fill="#a4a7b5" stroke="#262626" stroke-width="0.5"/>
<rect x="311.06" y="81.34" width="4.22" height="6.92" fill="#a4a7b5" stroke="#262626" stroke-width="0.5"/>
<rect x="315.29" y="81.34" width="4.22" height="6.92" fill="#a4a7b5" stroke="#262626" stroke-width="0.5"/>
<rect x="319.51" y="81.34" width="4.22" height="6.92" fill="#a4a7b5" stroke="#262626" stroke-width="0.5"/>
<rect x="323.73" y="81.34" width="4.22" height="6.92" fill="#a4a7b5" stroke="#262626" stroke-width="0.5"/>
<rect x="327.96" y="81.34" width="4.22" height="6.92" fill="#a4a7b5" stroke="#262626" stroke-width="0.5"/>
<rect x="332.18" y="81.34" width="4.22" height="6.92" fill="#a4a7b5" stroke="#262626" stroke-width="0.5"/>
<rect x="336.40" y="81.34" width="4.22" height="6.92" fill="#a4a7b5" stroke="#262626" stroke-width="0.5"/>
<rect x="340.62" y="81.34" width="4.22" height="6.92" fill="#a4a7b5" stroke="#262626" stroke-width="0.5"/>
<rect x="344.85" y="81.34" width="4.22" height="6.92" fill="#a4a7b5" stroke="#262626" stroke-width="0.5"/>
<rect x="349.07" y="81.34" width="4.22" height="6.92" fill="#a4a7b5" stroke="#262626" stroke-width="0.5"/>
<rect x="353.29" y="81.34" width="4.22" height="6.92" fill="#a4a7b5" stroke="#262626" stroke-width="0.5"/>
<rect x="357.51" y="81.34" width="4.22" height="6.92" fill="#a4a7b5" stroke="#262626" stroke-width="0.5"/>
<rect x="361.74" y="81.34" width="4.22" height="6.92" fill="#a4a7b5" stroke="#262626" stroke-width="0.5"/>
<rect x="365.96" y="81.34" width="4.22" height="6.92" fill="#a4a7b5" stroke="#262626" stroke-width="0.5"/>
<rect x="370.18" y="81.34" width="4.22" height="6.92" fill="#a4a7b5" stroke="#262626" stroke-width="0.5"/>
<rect x="374.40" y="81.34" width="4.22" height="6.92" fill="#a4a7b5" stroke="#262626" stroke-width="0.5"/>
<rect x="378.62" y="81.34" width="4.22" height="6.92" fill="#a4a7b5" stroke="#262626" stroke-width="0.5"/>
<rect x="382.85" y="81.34" width="4.22" height="6.92" fill="#a4a7b5" stroke="#262626" stroke-width="0.5"/>
<rect x="387.07" y="81.34" width="4.22" height="6.92" fill="#a4a7b5" stroke="#262626" stroke-width="0.5"/>
<rect x="391.29" y="81.34" width="4.22" height="6.92" fill="#a4a7b5" stroke="#262626" stroke-width="0.5"/>
<rect x="395.51" y="81.34" width="4.22" height="6.92" fill="#a4a7b5" stroke="#262626" stroke-width="0.5"/>
<rect x="399.74" y="81.34" width="4.22" height="6.92" fill="#a4a7b5" stroke="#262626" stroke-width="0.5"/>
<rect x="403.96" y="81.34" width="4.22" height="6.92" fill="#a4a7b5" stroke="#262626" stroke-width="0.5"/>
<rect x="408.18" y="81.34" width="4.22" height="6.92" fill="#a4a7b5" stroke="#262626" stroke-width="0.5"/>
<rect x="412.40" y="81.34" width="4.22" height="6.92" fill="#a4a7b5" stroke="#262626" stroke-width="0.5"/>
<rect x="416.63" y="81.34" width="4.22" height="6.92" fill="#a4a7b5" stroke="#262626" stroke-width="0.5"/>
<rect x="167.50" y="88.26" width="4.22" height="6.92" fill="#d5007f" stroke="#262626" stroke-width="0.5"/>
<rect x="171.72" y="88.26" width="4.22" height="6.92" fill="#d5007f" stroke="#262626" stroke-width="0.5"/>
<rect x="175.94" y="88.26" width="4.22" height="6.92" fill="#d5007f" stroke="#262626" stroke-width="0.5"/>
<rect x="180.17" y="88.26" width="4.22" height="6.92" fill="#d5007f" stroke="#262626" stroke-width="0.5"/>
<rect x="184.39" y="88.26" width="4.22" height="6.92" fill="#d5007f" stroke="#262626" stroke-width="0.5"/>
<rect x="188.61" y="88.26" width="4.22" height="6.92" fill="#3c3c3c" stroke="#262626" stroke-width="0.5"/>
<rect x="192.84" y="88.26" width="4.22" height="6.92" fill="#d5007f" stroke="#262626" stroke-width="0.5"/>
<rect x="197.06" y="88.26" width="4.22" height="6.92" fill="#d5007f" stroke="#262626" stroke-width="0.5"/>
<rect x="201.28" y="88.26" width="4.22" height="6.92" fill="#d5007f" stroke="#262626" stroke-width="0.5"/>
<rect x="205.50" y="88.26" width="4.22" height="6.92" fill="#d5007f" stroke="#262626" stroke-width="0.5"/>
<rect x="209.72" y="88.26" width="4.22" height="6.92" fill="#d5007f" stroke="#262626" stroke-width="0.5"/>
<rect x="213.95" y="88.26" width="4.22" height="6.92" fill="#d5007f" stroke="#262626" stroke-width="0.5"/>
<rect x="218.17" y="88.26" width="4.22" height="6.92" fill="#d5007f" stroke="#262626" stroke-width="0.5"/>
<rect x="222.39" y="88.26" width="4.22" height="6.92" fill="#d5007f" stroke="#262626" stroke-width="0.5"/>
<rect x="226.62" y="88.26" width="4.22" height="6.92" fill="#d5007f" stroke="#262626" stroke-width="0.5"/>
<rect x="230.84" y="88.26" width="4.22" height="6.92" fill="#d5007f" stroke="#262626" stroke-width="0.5"/>
<rect x="235.06" y="88.26" width="4.22" height="6.92" fill="#d5007f" stroke="#262626" stroke-width="0.5"/>
<rect x="239.28" y="88.26" width="4.22" height="6.92" fill="#d5007f" stroke="#262626" stroke-width="0.5"/>
<rect x="243.50" y="88.26" width="4.22" height="6.92" fill="#d5007f" stroke="#262626" stroke-width="0.5"/>
<rect x="247.73" y="88.26" width="4.22" height="6.92" fill="#d5007f" stroke="#262626" stroke-width="0.5"/>
<rect x="251.95" y="88.26" width="4.22" height="6.92" fill="#d5007f" stroke="#262626" stroke-width="0.5"/>
<rect x="256.17" y="88.26" width="4.22" height="6.92" fill="#d5007f" stroke="#262626" stroke-width="0.5"/>
<rect x="260.39" y="88.26" width="4.22" height="6.92" fill="#d5007f" stroke="#262626" stroke-width="0.5"/>
<rect x="264.62" y="88.26" width="4.22" height="6.92" fill="#d5007f" stroke="#262626" stroke-width="0.5"/>
<rect x="268.84" y="88.26" width="4.22" height="6.92" fill="#d5007f" stroke="#262626" stroke-width="0.5"/>
<rect x="273.06" y="88.26" width="4.22" height="6.92" fill="#d5007f" stroke="#262626" stroke-width="0.5"/>
<rect x="277.28" y="88.26" width="4.22" height="6.92" fill="#d5007f" stroke="#262626" stroke-width="0.5"/>
<rect x="281.51" y="88.26" width="4.22" height="6.92" fill="#d5007f" stroke="#262626" stroke-width="0.5"/>
<rect x="285.73" y="88.26" width="4.22" height="6.92" fill="#d5007f" stroke="#262626" stroke-width="0.5"/>
<rect x="289.95" y="88.26" width="4.22" height="6.92" fill="#d5007f" stroke="#262626" stroke-width="0.5"/>
<rect x="294.18" y="88.26" width="4.22" height="6.92" fill="#d5007f" stroke="#262626" stroke-width="0.5"/>
<rect x="298.40" y="88.26" width="4.22" height="6.92" fill="#d5007f" stroke="#262626" stroke-width="0.5"/>
<rect x="302.62" y="88.26" width="4.22" height="6.92" fill="#d5007f" stroke="#262626" stroke-width="0.5"/>
<rect x="306.84" y="88.26" width="4.22" height="6.92" fill="#d5007f" stroke="#262626" stroke-width="0.5"/>
<rect x="311.06" y="88.26" width="4.22" height="6.92" fill="#d5007f" stroke="#262626" stroke-width="0.5"/>
<rect x="315.29" y="88.26" width="4.22" height="6.92" fill="#d5007f" stroke="#262626" stroke-width="0.5"/>
<rect x="319.51" y="88.26" width="4.22" height="6.92" fill="#d5007f" stroke="#262626" stroke-width="0.5"/>
<rect x="323.73" y="88.26" width="4.22" height="6.92" fill="#d5007f" stroke="#262626" stroke-width="0.5"/>
<rect x="327.96" y="88.26" width="4.22" height="6.92" fill="#d5007f" stroke="#262626" stroke-width="0.5"/>
<rect x="332.18" y="88.26" width="4.22" height="6.92" fill="#d5007f" stroke="#262626" stroke-width="0.5"/>
<rect x="336.40" y="88.26" width="4.22" height="6.92" fill="#d5007f" stroke="#262626" stroke-width="0.5"/>
<rect x="340.62" y="88.26" width="4.22" height="6.92" fill="#d5007f" stroke="#262626" stroke-width="0.5"/>
<rect x="344.85" y="88.26" width="4.22" height="6.92" fill="#d5007f" stroke="#262626" stroke-width="0.5"/>
<rect x="349.07" y="88.26" width="4.22" height="6.92" fill="#d5007f" stroke="#262626" stroke-width="0.5"/>
<rect x="353.29" y="88.26" width="4.22" height="6.92" fill="#d5007f" stroke="#262626" stroke-width="0.5"/>
<rect x="357.51" y="88.26" width="4.22" height="6.92" fill="#d5007f" stroke="#262626" stroke-width="0.5"/>
<rect x="361.74" y="88.26" width="4.22" height="6.92" fill="#d5007f" stroke="#262626" stroke-width="0.5"/>
<rect x="365.96" y="88.26" width="4.22" height="6.92" fill="#d5007f" stroke="#262626" stroke-width="0.5"/>
<rect x="370.18" y="88.26" width="4.22" height="6.92" fill="#d5007f" stroke="#262626" stroke-width="0.5"/>
<rect x="374.40" y="88.26" width="4.22" height="6.92" fill="#d5007f" stroke="#262626" stroke-width="0.5"/>
<rect x="378.62" y="88.26" width="4.22" height="6.92" fill="#d5007f" stroke="#262626" stroke-width="0.5"/>
<rect x="382.85" y="88.26" width="4.22" height="6.92" fill="#d5007f" stroke="#262626" stroke-width="0.5"/>
<rect x="387.07" y="88.26" width="4.22" height="6.92" fill="#d5007f" stroke="#262626" stroke-width="0.5"/>
<rect x="391.29" y="88.26" width="4.22" height="6.92" fill="#d5007f" stroke="#262626" stroke-width="0.5"/>
<rect x="395.51" y="88.26" width="4.22" height="6.92" fill="#d5007f" stroke="#262626" stroke-width="0.5"/>
<rect x="399.74" y="88.26" width="4.22" height="6.92" fill="#d5007f" stroke="#262626" stroke-width="0.5"/>
<rect x="403.96" y="88.26" width="4.22" height="6.92" fill="#d5007f" stroke="#262626" stroke-width="0.5"/>
<rect x="408.18" y="88.26" width="4.22" height="6.92" fill="#d5007f" stroke="#262626" stroke-width="0.5"/>
<rect x="412.40" y="88.26" width="4.22" height="6.92" fill="#d5007f" stroke="#262626" stroke-width="0.5"/>
<rect x="416.63" y="88.26" width="4.22" height="6.92" fill="#d5007f" stroke="#262626" stroke-width="0.5"/>
<rect x="167.50" y="95.18" width="4.22" height="6.92" fill="#ffffff" stroke="#262626" stroke-width="0.5"/>
<rect x="171.72" y="95.18" width="4.22" height="6.92" fill="#ffffff" stroke="#262626" stroke-width="0.5"/>
<rect x="175.94" y="95.18" width="4.22" height="6.92" fill="#ffffff" stroke="#262626" stroke-width="0.5"/>
<rect x="180.17" y="95.18" width="4.22" height="6.92" fill="#ffffff" stroke="#262626" stroke-width="0.5"/>
<rect x="184.39" y="95.18" width="4.22" height="6.92" fill="#ffffff" stroke="#262626" stroke-width="0.5"/>
<rect x="188.61" y="95.18" width="4.22" height="6.92" fill="#b09a7c" stroke="#262626" stroke-width="0.5"/>
<rect x="192.84" y="95.18" width="4.22" height="6.92" fill="#ffffff" stroke="#262626" stroke-width="0.5"/>
<rect x="197.06" y="95.18" width="4.22" height="6.92" fill="#ffffff" stroke="#262626" stroke-width="0.5"/>
<rect x="201.28" y="95.18" width="4.22" height="6.92" fill="#ffffff" stroke="#262626" stroke-width="0.5"/>
<rect x="205.50" y="95.18" width="4.22" height="6.92" fill="#6cb3eb" stroke="#262626" stroke-width="0.5"/>
<rect x="209.72" y="95.18" width="4.22" height="6.92" fill="#ffffff" stroke="#262626" stroke-width="0.5"/>
<rect x="213.95" y="95.18" width="4.22" height="6.92" fill="#ffffff" stroke="#262626" stroke-width="0.5"/>
<rect x="218.17" y="95.18" width="4.22" height="6.92" fill="#6cb3eb" stroke="#262626" stroke-width="0.5"/>
<rect x="222.39" y="95.18" width="4.22" height="6.92" fill="#ffffff" stroke="#262626" stroke-width="0.5"/>
<rect x="226.62" y="95.18" width="4.22" height="6.92" fill="#bac88e" stroke="#262626" stroke-width="0.5"/>
<rect x="230.84" y="95.18" width="4.22" height="6.92" fill="#bac88e" stroke="#262626" stroke-width="0.5"/>
<rect x="235.06" y="95.18" width="4.22" height="6.92" fill="#bac88e" stroke="#262626" stroke-width="0.5"/>
<rect x="239.28" y="95.18" width="4.22" height="6.92" fill="#ffffff" stroke="#262626" stroke-width="0.5"/>
<rect x="243.50" y="95.18" width="4.22" height="6.92" fill="#6cb3eb" stroke="#262626" stroke-width="0.5"/>
<rect x="247.73" y="95.18" width="4.22" height="6.92" fill="#6cb3eb" stroke="#262626" stroke-width="0.5"/>
<rect x="251.95" y="95.18" width="4.22" height="6.92" fill="#6cb3eb" stroke="#262626" stroke-width="0.5"/>
<rect x="256.17" y="95.18" width="4.22" height="6.92" fill="#bac88e" stroke="#262626" stroke-width="0.5"/>
<rect x="260.39" y="95.18" width="4.22" height="6.92" fill="#ffffff" stroke="#262626" stroke-width="0.5"/>
<rect x="264.62" y="95.18" width="4.22" height="6.92" fill="#ffffff" stroke="#262626" stroke-width="0.5"/>
<rect x="268.84" y="95.18" width="4.22" height="6.92" fill="#bac88e" stroke="#262626" stroke-width="0.5"/>
<rect x="273.06" y="95.18" width="4.22" height="6.92" fill="#bac88e" stroke="#262626" stroke-width="0.5"/>
<rect x="277.28" y="95.18" width="4.22" height="6.92" fill="#6cb3eb" stroke="#262626" stroke-width="0.5"/>
<rect x="281.51" y="95.18" width="4.22" height="6.92" fill="#6cb3eb" stroke="#262626" stroke-width="0.5"/>
<rect x="285.73" y="95.18" width="4.22" height="6.92" fill="#6cb3eb" stroke="#262626" stroke-width="0.5"/>
<rect x="289.95" y="95.18" width="4.22" height="6.92" fill="#6cb3eb" stroke="#262626" stroke-width="0.5"/>
<rect x="294.18" y="95.18" width="4.22" height="6.92" fill="#6cb3eb" stroke="#262626" stroke-width="0.5"/>
<rect x="298.40" y="95.18" width="4.22" height="6.92" fill="#6cb3eb" stroke="#262626" stroke-width="0.5"/>
<rect x="302.62" y="95.18" width="4.22" height="6.92" fill="#6cb3eb" stroke="#262626" stroke-width="0.5"/>
<rect x="306.84" y="95.18" width="4.22" height="6.92" fill="#ffffff" stroke="#262626" stroke-width="0.5"/>
<rect x="311.06" y="95.18" width="4.22" height="6.92" fill="#6cb3eb" stroke="#262626" stroke-width="0.5"/>
<rect x="315.29" y="95.18" width="4.22" height="6.92" fill="#6cb3eb" stroke="#262626" stroke-width="0.5"/>
<rect x="319.51" y="95.18" width="4.22" height="6.92" fill="#6cb3eb" stroke="#262626" stroke-width="0.5"/>
<rect x="323.73" y="95.18" width="4.22" height="6.92" fill="#6cb3eb" stroke="#262626" stroke-width="0.5"/>
<rect x="327.96" y="95.18" width="4.22" height="6.92" fill="#ffffff" stroke="#262626" stroke-width="0.5"/>
<rect x="332.18" y="95.18" width="4.22" height="6.92" fill="#6cb3eb" stroke="#262626" stroke-width="0.5"/>
<rect x="336.40" y="95.18" width="4.22" height="6.92" fill="#bac88e" stroke="#262626" stroke-width="0.5"/>
<rect x="340.62" y="95.18" width="4.22" height="6.92" fill="#bac88e" stroke="#262626" stroke-width="0.5"/>
<rect x="344.85" y="95.18" width="4.22" height="6.92" fill="#bac88e" stroke="#262626" stroke-width="0.5"/>
<rect x="349.07" y="95.18" width="4.22" height="6.92" fill="#bac88e" stroke="#262626" stroke-width="0.5"/>
<rect x="353.29" y="95.18" width="4.22" height="6.92" fill="#bac88e" stroke="#262626" stroke-width="0.5"/>
<rect x="357.51" y="95.18" width="4.22" height="6.92" fill="#6cb3eb" stroke="#262626" stroke-width="0.5"/>
<rect x="361.74" y="95.18" width="4.22" height="6.92" fill="#6cb3eb" stroke="#262626" stroke-width="0.5"/>
<rect x="365.96" y="95.18" width="4.22" height="6.92" fill="#6cb3eb" stroke="#262626" stroke-width="0.5"/>
<rect x="370.18" y="95.18" width="4.22" height="6.92" fill="#b09a7c" stroke="#262626" stroke-width="0.5"/>
<rect x="374.40" y="95.18" width="4.22" height="6.92" fill="#bac88e" stroke="#262626" stroke-width="0.5"/>
<rect x="378.62" y="95.18" width="4.22" height="6.92" fill="#ffffff" stroke="#262626" stroke-width="0.5"/>
<rect x="382.85" y="95.18" width="4.22" height="6.92" fill="#ffffff" stroke="#262626" stroke-width="0.5"/>
<rect x="387.07" y="95.18" width="4.22" height="6.92" fill="#bac88e" stroke="#262626" stroke-width="0.5"/>
<rect x="391.29" y="95.18" width="4.22" height="6.92" fill="#bac88e" stroke="#262626" stroke-width="0.5"/>
<rect x="395.51" y="95.18" width="4.22" height="6.92" fill="#6cb3eb" stroke="#262626" stroke-width="0.5"/>
<rect x="399.74" y="95.18" width="4.22" height="6.92" fill="#6cb3eb" stroke="#262626" stroke-width="0.5"/>
<rect x="403.96" y="95.18" width="4.22" height="6.92" fill="#6cb3eb" stroke="#262626" stroke-width="0.5"/>
<rect x="408.18" y="95.18" width="4.22" height="6.92" fill="#6cb3eb" stroke="#262626" stroke-width="0.5"/>
<rect x="412.40" y="95.18" width="4.22" height="6.92" fill="#6cb3eb" stroke="#262626" stroke-width="0.5"/>
<rect x="416.63" y="95.18" width="4.22" height="6.92" fill="#6cb3eb" stroke="#262626" stroke-width="0.5"/>
<rect x="167.50" y="67.50" width="253.35" height="34.60" fill="none" stroke="#555" stroke-width="0.5"/>
<rect x="57.95" y="67.75" width="3.72" height="6.42" fill="#1f3f85"/>
<polygon points="57.95,68.10 57.95,74.17 61.42,74.17" fill="#ffffff"/>
<rect x="62.17" y="67.75" width="3.72" height="6.42" fill="#1f3f85"/>
<polygon points="62.17,68.10 62.17,74.17 65.64,74.17" fill="#ffffff"/>
<rect x="66.40" y="67.75" width="3.72" height="6.42" fill="#1f3f85"/>
<polygon points="66.40,68.10 66.40,74.17 69.87,74.17" fill="#ffffff"/>
<path d="M60.81,61.1 L58.51,63.0 L60.81,64.7 M58.41,61.0 L58.41,64.8" stroke="#606060" stroke-width="0.75" fill="none"/>
<ellipse cx="59.51" cy="59.3" rx="1.25" ry="0.85" fill="#262626"/>
<rect x="58.66" y="55.95" width="1.7" height="0.75" fill="#4a4a4a"/>
<path d="M65.03,61.1 L62.73,63.0 L65.03,64.7 M62.63,61.0 L62.63,64.8" stroke="#606060" stroke-width="0.75" fill="none"/>
<ellipse cx="63.73" cy="59.3" rx="1.25" ry="0.85" fill="#262626"/>
<rect x="62.88" y="55.95" width="1.7" height="0.75" fill="#4a4a4a"/>
<path d="M69.26,61.1 L66.96,63.0 L69.26,64.7 M66.86,61.0 L66.86,64.8" stroke="#606060" stroke-width="0.75" fill="none"/>
<ellipse cx="67.96" cy="59.3" rx="1.25" ry="0.85" fill="#262626"/>
<rect x="67.11" y="55.95" width="1.7" height="0.75" fill="#4a4a4a"/>
<path d="M73.48,61.1 L71.18,63.0 L73.48,64.7 M71.08,61.0 L71.08,64.8" stroke="#606060" stroke-width="0.75" fill="none"/>
<ellipse cx="72.18" cy="59.3" rx="1.25" ry="0.85" fill="#262626"/>
<rect x="71.33" y="55.95" width="1.7" height="0.75" fill="#4a4a4a"/>
<path d="M77.70,61.1 L75.40,63.0 L77.70,64.7 M75.30,61.0 L75.30,64.8" stroke="#606060" stroke-width="0.75" fill="none"/>
<ellipse cx="76.40" cy="59.3" rx="1.25" ry="0.85" fill="#262626"/>
<rect x="75.55" y="55.95" width="1.7" height="0.75" fill="#4a4a4a"/>
<path d="M81.92,61.1 L79.62,63.0 L81.92,64.7 M79.52,61.0 L79.52,64.8" stroke="#606060" stroke-width="0.75" fill="none"/>
<ellipse cx="80.62" cy="59.3" rx="1.25" ry="0.85" fill="#262626"/>
<rect x="79.77" y="55.95" width="1.7" height="0.75" fill="#4a4a4a"/>
<path d="M86.15,61.1 L83.85,63.0 L86.15,64.7 M83.75,61.0 L83.75,64.8" stroke="#606060" stroke-width="0.75" fill="none"/>
<ellipse cx="84.85" cy="59.3" rx="1.25" ry="0.85" fill="#262626"/>
<rect x="84.00" y="55.95" width="1.7" height="0.75" fill="#4a4a4a"/>
<path d="M90.37,61.1 L88.07,63.0 L90.37,64.7 M87.97,61.0 L87.97,64.8" stroke="#606060" stroke-width="0.75" fill="none"/>
<ellipse cx="89.07" cy="59.3" rx="1.25" ry="0.85" fill="#262626"/>
<rect x="88.22" y="55.95" width="1.7" height="0.75" fill="#4a4a4a"/>
<path d="M94.59,61.1 L92.29,63.0 L94.59,64.7 M92.19,61.0 L92.19,64.8" stroke="#606060" stroke-width="0.75" fill="none"/>
<ellipse cx="93.29" cy="59.3" rx="1.25" ry="0.85" fill="#262626"/>
<rect x="92.44" y="55.95" width="1.7" height="0.75" fill="#4a4a4a"/>
<path d="M98.81,61.1 L96.51,63.0 L98.81,64.7 M96.41,61.0 L96.41,64.8" stroke="#606060" stroke-width="0.75" fill="none"/>
<ellipse cx="97.51" cy="59.3" rx="1.25" ry="0.85" fill="#262626"/>
<rect x="96.66" y="55.95" width="1.7" height="0.75" fill="#4a4a4a"/>
<path d="M103.04,61.1 L100.74,63.0 L103.04,64.7 M100.64,61.0 L100.64,64.8" stroke="#606060" stroke-width="0.75" fill="none"/>
<ellipse cx="101.74" cy="59.3" rx="1.25" ry="0.85" fill="#262626"/>
<rect x="100.89" y="55.95" width="1.7" height="0.75" fill="#4a4a4a"/>
<path d="M107.26,61.1 L104.96,63.0 L107.26,64.7 M104.86,61.0 L104.86,64.8" stroke="#606060" stroke-width="0.75" fill="none"/>
<ellipse cx="105.96" cy="59.3" rx="1.25" ry="0.85" fill="#262626"/>
<rect x="105.11" y="55.95" width="1.7" height="0.75" fill="#4a4a4a"/>
<path d="M111.48,61.1 L109.18,63.0 L111.48,64.7 M109.08,61.0 L109.08,64.8" stroke="#606060" stroke-width="0.75" fill="none"/>
<ellipse cx="110.18" cy="59.3" rx="1.25" ry="0.85" fill="#262626"/>
<rect x="109.33" y="55.95" width="1.7" height="0.75" fill="#4a4a4a"/>
<text transform="translate(111.38,54.90) rotate(-90)" font-size="3.6" fill="#4a4a4a">8</text>
<path d="M115.70,61.1 L113.40,63.0 L115.70,64.7 M113.30,61.0 L113.30,64.8" stroke="#606060" stroke-width="0.75" fill="none"/>
<ellipse cx="114.40" cy="59.3" rx="1.25" ry="0.85" fill="#262626"/>
<rect x="113.55" y="55.95" width="1.7" height="0.75" fill="#4a4a4a"/>
<text transform="translate(115.60,54.90) rotate(-90)" font-size="3.6" fill="#4a4a4a">8</text>
<path d="M119.93,61.1 L117.63,63.0 L119.93,64.7 M117.53,61.0 L117.53,64.8" stroke="#606060" stroke-width="0.75" fill="none"/>
<ellipse cx="118.63" cy="59.3" rx="1.25" ry="0.85" fill="#262626"/>
<rect x="117.78" y="55.95" width="1.7" height="0.75" fill="#4a4a4a"/>
<text transform="translate(119.83,54.90) rotate(-90)" font-size="3.6" fill="#4a4a4a">8</text>
<path d="M124.15,61.1 L121.85,63.0 L124.15,64.7 M121.75,61.0 L121.75,64.8" stroke="#606060" stroke-width="0.75" fill="none"/>
<ellipse cx="122.85" cy="59.3" rx="1.25" ry="0.85" fill="#262626"/>
<rect x="122.00" y="55.95" width="1.7" height="0.75" fill="#4a4a4a"/>
<text transform="translate(124.05,54.90) rotate(-90)" font-size="3.6" fill="#4a4a4a">8</text>
<path d="M128.37,61.1 L126.07,63.0 L128.37,64.7 M125.97,61.0 L125.97,64.8" stroke="#606060" stroke-width="0.75" fill="none"/>
<ellipse cx="127.07" cy="59.3" rx="1.25" ry="0.85" fill="#262626"/>
<rect x="126.22" y="55.95" width="1.7" height="0.75" fill="#4a4a4a"/>
<text transform="translate(128.27,54.90) rotate(-90)" font-size="3.6" fill="#4a4a4a">8</text>
<path d="M132.59,61.1 L130.29,63.0 L132.59,64.7 M130.19,61.0 L130.19,64.8" stroke="#606060" stroke-width="0.75" fill="none"/>
<ellipse cx="131.29" cy="59.3" rx="1.25" ry="0.85" fill="#262626"/>
<rect x="130.44" y="55.95" width="1.7" height="0.75" fill="#4a4a4a"/>
<text transform="translate(132.49,54.90) rotate(-90)" font-size="3.6" fill="#4a4a4a">8</text>
<path d="M136.82,61.1 L134.52,63.0 L136.82,64.7 M134.42,61.0 L134.42,64.8" stroke="#606060" stroke-width="0.75" fill="none"/>
<ellipse cx="135.52" cy="59.3" rx="1.25" ry="0.85" fill="#262626"/>
<rect x="134.67" y="55.95" width="1.7" height="0.75" fill="#4a4a4a"/>
<text transform="translate(136.72,54.90) rotate(-90)" font-size="3.6" fill="#4a4a4a">8</text>
<path d="M141.04,61.1 L138.74,63.0 L141.04,64.7 M138.64,61.0 L138.64,64.8" stroke="#606060" stroke-width="0.75" fill="none"/>
<ellipse cx="139.74" cy="59.3" rx="1.25" ry="0.85" fill="#262626"/>
<rect x="138.89" y="55.95" width="1.7" height="0.75" fill="#4a4a4a"/>
<text transform="translate(140.94,54.90) rotate(-90)" font-size="3.6" fill="#4a4a4a">8</text>
<path d="M145.26,61.1 L142.96,63.0 L145.26,64.7 M142.86,61.0 L142.86,64.8" stroke="#606060" stroke-width="0.75" fill="none"/>
<ellipse cx="143.96" cy="59.3" rx="1.25" ry="0.85" fill="#262626"/>
<rect x="143.11" y="55.95" width="1.7" height="0.75" fill="#4a4a4a"/>
<text transform="translate(145.16,54.90) rotate(-90)" font-size="3.6" fill="#4a4a4a">8</text>
<path d="M149.48,61.1 L147.18,63.0 L149.48,64.7 M147.08,61.0 L147.08,64.8" stroke="#606060" stroke-width="0.75" fill="none"/>
<ellipse cx="148.18" cy="59.3" rx="1.25" ry="0.85" fill="#262626"/>
<rect x="147.33" y="55.95" width="1.7" height="0.75" fill="#4a4a4a"/>
<text transform="translate(149.38,54.90) rotate(-90)" font-size="3.6" fill="#4a4a4a">8</text>
<path d="M153.71,61.1 L151.41,63.0 L153.71,64.7 M151.31,61.0 L151.31,64.8" stroke="#606060" stroke-width="0.75" fill="none"/>
<ellipse cx="152.41" cy="59.3" rx="1.25" ry="0.85" fill="#262626"/>
<rect x="151.56" y="55.95" width="1.7" height="0.75" fill="#4a4a4a"/>
<text transform="translate(153.61,54.90) rotate(-90)" font-size="3.6" fill="#4a4a4a">8</text>
<path d="M157.93,61.1 L155.63,63.0 L157.93,64.7 M155.53,61.0 L155.53,64.8" stroke="#606060" stroke-width="0.75" fill="none"/>
<ellipse cx="156.63" cy="59.3" rx="1.25" ry="0.85" fill="#262626"/>
<rect x="155.78" y="55.95" width="1.7" height="0.75" fill="#4a4a4a"/>
<text transform="translate(157.83,54.90) rotate(-90)" font-size="3.6" fill="#4a4a4a">8</text>
<path d="M162.15,61.1 L159.85,63.0 L162.15,64.7 M159.75,61.0 L159.75,64.8" stroke="#606060" stroke-width="0.75" fill="none"/>
<ellipse cx="160.85" cy="59.3" rx="1.25" ry="0.85" fill="#262626"/>
<rect x="160.00" y="55.95" width="1.7" height="0.75" fill="#4a4a4a"/>
<text transform="translate(162.05,54.90) rotate(-90)" font-size="3.6" fill="#4a4a4a">8</text>
<path d="M170.61,61.1 L168.31,63.0 L170.61,64.7 M168.21,61.0 L168.21,64.8" stroke="#606060" stroke-width="0.75" fill="none"/>
<ellipse cx="169.31" cy="59.3" rx="1.25" ry="0.85" fill="#262626"/>
<rect x="168.46" y="55.95" width="1.7" height="0.75" fill="#4a4a4a"/>
<path d="M174.83,61.1 L172.53,63.0 L174.83,64.7 M172.43,61.0 L172.43,64.8" stroke="#606060" stroke-width="0.75" fill="none"/>
<ellipse cx="173.53" cy="59.3" rx="1.25" ry="0.85" fill="#262626"/>
<rect x="172.68" y="55.95" width="1.7" height="0.75" fill="#4a4a4a"/>
<text transform="translate(174.73,54.90) rotate(-90)" font-size="3.6" fill="#4a4a4a">8</text>
<path d="M179.06,61.1 L176.76,63.0 L179.06,64.7 M176.66,61.0 L176.66,64.8" stroke="#606060" stroke-width="0.75" fill="none"/>
<ellipse cx="177.76" cy="59.3" rx="1.25" ry="0.85" fill="#262626"/>
<rect x="176.91" y="55.95" width="1.7" height="0.75" fill="#4a4a4a"/>
<text transform="translate(178.96,54.90) rotate(-90)" font-size="3.6" fill="#4a4a4a">8</text>
<path d="M183.28,61.1 L180.98,63.0 L183.28,64.7 M180.88,61.0 L180.88,64.8" stroke="#606060" stroke-width="0.75" fill="none"/>
<ellipse cx="181.98" cy="59.3" rx="1.25" ry="0.85" fill="#262626"/>
<rect x="181.13" y="55.95" width="1.7" height="0.75" fill="#4a4a4a"/>
<text transform="translate(183.18,54.90) rotate(-90)" font-size="3.6" fill="#4a4a4a">8</text>
<path d="M187.50,61.1 L185.20,63.0 L187.50,64.7 M185.10,61.0 L185.10,64.8" stroke="#606060" stroke-width="0.75" fill="none"/>
<ellipse cx="186.20" cy="59.3" rx="1.25" ry="0.85" fill="#262626"/>
<rect x="185.35" y="55.95" width="1.7" height="0.75" fill="#4a4a4a"/>
<text transform="translate(187.40,54.90) rotate(-90)" font-size="3.6" fill="#4a4a4a">8</text>
<path d="M191.72,61.1 L189.42,63.0 L191.72,64.7 M189.32,61.0 L189.32,64.8" stroke="#606060" stroke-width="0.75" fill="none"/>
<ellipse cx="190.42" cy="59.3" rx="1.25" ry="0.85" fill="#262626"/>
<rect x="189.57" y="55.95" width="1.7" height="0.75" fill="#4a4a4a"/>
<text transform="translate(191.62,54.90) rotate(-90)" font-size="3.6" fill="#4a4a4a">8</text>
<path d="M195.95,61.1 L193.65,63.0 L195.95,64.7 M193.55,61.0 L193.55,64.8" stroke="#606060" stroke-width="0.75" fill="none"/>
<ellipse cx="194.65" cy="59.3" rx="1.25" ry="0.85" fill="#262626"/>
<rect x="193.80" y="55.95" width="1.7" height="0.75" fill="#4a4a4a"/>
<text transform="translate(195.85,54.90) rotate(-90)" font-size="3.6" fill="#4a4a4a">8</text>
<path d="M200.17,61.1 L197.87,63.0 L200.17,64.7 M197.77,61.0 L197.77,64.8" stroke="#606060" stroke-width="0.75" fill="none"/>
<ellipse cx="198.87" cy="59.3" rx="1.25" ry="0.85" fill="#262626"/>
<rect x="198.02" y="55.95" width="1.7" height="0.75" fill="#4a4a4a"/>
<text transform="translate(200.07,54.90) rotate(-90)" font-size="3.6" fill="#4a4a4a">8</text>
<path d="M204.39,61.1 L202.09,63.0 L204.39,64.7 M201.99,61.0 L201.99,64.8" stroke="#606060" stroke-width="0.75" fill="none"/>
<ellipse cx="203.09" cy="59.3" rx="1.25" ry="0.85" fill="#262626"/>
<rect x="202.24" y="55.95" width="1.7" height="0.75" fill="#4a4a4a"/>
<text transform="translate(204.29,54.90) rotate(-90)" font-size="3.6" fill="#4a4a4a">8</text>
<path d="M208.61,61.1 L206.31,63.0 L208.61,64.7 M206.21,61.0 L206.21,64.8" stroke="#606060" stroke-width="0.75" fill="none"/>
<ellipse cx="207.31" cy="59.3" rx="1.25" ry="0.85" fill="#262626"/>
<rect x="206.46" y="55.95" width="1.7" height="0.75" fill="#4a4a4a"/>
<text transform="translate(208.51,54.90) rotate(-90)" font-size="3.6" fill="#4a4a4a">8</text>
<path d="M212.84,61.1 L210.54,63.0 L212.84,64.7 M210.44,61.0 L210.44,64.8" stroke="#606060" stroke-width="0.75" fill="none"/>
<ellipse cx="211.54" cy="59.3" rx="1.25" ry="0.85" fill="#262626"/>
<rect x="210.69" y="55.95" width="1.7" height="0.75" fill="#4a4a4a"/>
<text transform="translate(212.74,54.90) rotate(-90)" font-size="3.6" fill="#4a4a4a">8</text>
<path d="M217.06,61.1 L214.76,63.0 L217.06,64.7 M214.66,61.0 L214.66,64.8" stroke="#606060" stroke-width="0.75" fill="none"/>
<ellipse cx="215.76" cy="59.3" rx="1.25" ry="0.85" fill="#262626"/>
<rect x="214.91" y="55.95" width="1.7" height="0.75" fill="#4a4a4a"/>
<text transform="translate(216.96,54.90) rotate(-90)" font-size="3.6" fill="#4a4a4a">8</text>
<path d="M221.28,61.1 L218.98,63.0 L221.28,64.7 M218.88,61.0 L218.88,64.8" stroke="#606060" stroke-width="0.75" fill="none"/>
<ellipse cx="219.98" cy="59.3" rx="1.25" ry="0.85" fill="#262626"/>
<rect x="219.13" y="55.95" width="1.7" height="0.75" fill="#4a4a4a"/>
<text transform="translate(221.18,54.90) rotate(-90)" font-size="3.6" fill="#4a4a4a">8</text>
<path d="M225.50,61.1 L223.20,63.0 L225.50,64.7 M223.10,61.0 L223.10,64.8" stroke="#606060" stroke-width="0.75" fill="none"/>
<ellipse cx="224.20" cy="59.3" rx="1.25" ry="0.85" fill="#262626"/>
<rect x="223.35" y="55.95" width="1.7" height="0.75" fill="#4a4a4a"/>
<text transform="translate(225.40,54.90) rotate(-90)" font-size="3.6" fill="#4a4a4a">8</text>
<path d="M229.73,61.1 L227.43,63.0 L229.73,64.7 M227.33,61.0 L227.33,64.8" stroke="#606060" stroke-width="0.75" fill="none"/>
<ellipse cx="228.43" cy="59.3" rx="1.25" ry="0.85" fill="#262626"/>
<rect x="227.58" y="55.95" width="1.7" height="0.75" fill="#4a4a4a"/>
<text transform="translate(229.63,54.90) rotate(-90)" font-size="3.6" fill="#4a4a4a">8</text>
<path d="M233.95,61.1 L231.65,63.0 L233.95,64.7 M231.55,61.0 L231.55,64.8" stroke="#606060" stroke-width="0.75" fill="none"/>
<ellipse cx="232.65" cy="59.3" rx="1.25" ry="0.85" fill="#262626"/>
<rect x="231.80" y="55.95" width="1.7" height="0.75" fill="#4a4a4a"/>
<text transform="translate(233.85,54.90) rotate(-90)" font-size="3.6" fill="#4a4a4a">8</text>
<path d="M238.17,61.1 L235.87,63.0 L238.17,64.7 M235.77,61.0 L235.77,64.8" stroke="#606060" stroke-width="0.75" fill="none"/>
<ellipse cx="236.87" cy="59.3" rx="1.25" ry="0.85" fill="#262626"/>
<rect x="236.02" y="55.95" width="1.7" height="0.75" fill="#4a4a4a"/>
<text transform="translate(238.07,54.90) rotate(-90)" font-size="3.6" fill="#4a4a4a">8</text>
<path d="M242.39,61.1 L240.09,63.0 L242.39,64.7 M239.99,61.0 L239.99,64.8" stroke="#606060" stroke-width="0.75" fill="none"/>
<ellipse cx="241.09" cy="59.3" rx="1.25" ry="0.85" fill="#262626"/>
<rect x="240.24" y="55.95" width="1.7" height="0.75" fill="#4a4a4a"/>
<text transform="translate(242.29,54.90) rotate(-90)" font-size="3.6" fill="#4a4a4a">8</text>
<path d="M246.62,61.1 L244.32,63.0 L246.62,64.7 M244.22,61.0 L244.22,64.8" stroke="#606060" stroke-width="0.75" fill="none"/>
<ellipse cx="245.32" cy="59.3" rx="1.25" ry="0.85" fill="#262626"/>
<rect x="244.47" y="55.95" width="1.7" height="0.75" fill="#4a4a4a"/>
<text transform="translate(246.52,54.90) rotate(-90)" font-size="3.6" fill="#4a4a4a">8</text>
<path d="M250.84,61.1 L248.54,63.0 L250.84,64.7 M248.44,61.0 L248.44,64.8" stroke="#606060" stroke-width="0.75" fill="none"/>
<ellipse cx="249.54" cy="59.3" rx="1.25" ry="0.85" fill="#262626"/>
<rect x="248.69" y="55.95" width="1.7" height="0.75" fill="#4a4a4a"/>
<text transform="translate(250.74,54.90) rotate(-90)" font-size="3.6" fill="#4a4a4a">8</text>
<path d="M255.06,61.1 L252.76,63.0 L255.06,64.7 M252.66,61.0 L252.66,64.8" stroke="#606060" stroke-width="0.75" fill="none"/>
<ellipse cx="253.76" cy="59.3" rx="1.25" ry="0.85" fill="#262626"/>
<rect x="252.91" y="55.95" width="1.7" height="0.75" fill="#4a4a4a"/>
<text transform="translate(254.96,54.90) rotate(-90)" font-size="3.6" fill="#4a4a4a">8</text>
<path d="M259.28,61.1 L256.98,63.0 L259.28,64.7 M256.88,61.0 L256.88,64.8" stroke="#606060" stroke-width="0.75" fill="none"/>
<ellipse cx="257.98" cy="59.3" rx="1.25" ry="0.85" fill="#262626"/>
<rect x="257.13" y="55.95" width="1.7" height="0.75" fill="#4a4a4a"/>
<text transform="translate(259.18,54.90) rotate(-90)" font-size="3.6" fill="#4a4a4a">8</text>
<path d="M263.51,61.1 L261.21,63.0 L263.51,64.7 M261.11,61.0 L261.11,64.8" stroke="#606060" stroke-width="0.75" fill="none"/>
<ellipse cx="262.21" cy="59.3" rx="1.25" ry="0.85" fill="#262626"/>
<rect x="261.36" y="55.95" width="1.7" height="0.75" fill="#4a4a4a"/>
<text transform="translate(263.41,54.90) rotate(-90)" font-size="3.6" fill="#4a4a4a">8</text>
<path d="M267.73,61.1 L265.43,63.0 L267.73,64.7 M265.33,61.0 L265.33,64.8" stroke="#606060" stroke-width="0.75" fill="none"/>
<ellipse cx="266.43" cy="59.3" rx="1.25" ry="0.85" fill="#262626"/>
<rect x="265.58" y="55.95" width="1.7" height="0.75" fill="#4a4a4a"/>
<text transform="translate(267.63,54.90) rotate(-90)" font-size="3.6" fill="#4a4a4a">8</text>
<path d="M271.95,61.1 L269.65,63.0 L271.95,64.7 M269.55,61.0 L269.55,64.8" stroke="#606060" stroke-width="0.75" fill="none"/>
<ellipse cx="270.65" cy="59.3" rx="1.25" ry="0.85" fill="#262626"/>
<rect x="269.80" y="55.95" width="1.7" height="0.75" fill="#4a4a4a"/>
<text transform="translate(271.85,54.90) rotate(-90)" font-size="3.6" fill="#4a4a4a">8</text>
<path d="M276.17,61.1 L273.87,63.0 L276.17,64.7 M273.77,61.0 L273.77,64.8" stroke="#606060" stroke-width="0.75" fill="none"/>
<ellipse cx="274.87" cy="59.3" rx="1.25" ry="0.85" fill="#262626"/>
<rect x="274.02" y="55.95" width="1.7" height="0.75" fill="#4a4a4a"/>
<text transform="translate(276.07,54.90) rotate(-90)" font-size="3.6" fill="#4a4a4a">8</text>
<path d="M280.40,61.1 L278.10,63.0 L280.40,64.7 M278.00,61.0 L278.00,64.8" stroke="#606060" stroke-width="0.75" fill="none"/>
<ellipse cx="279.10" cy="59.3" rx="1.25" ry="0.85" fill="#262626"/>
<rect x="278.25" y="55.95" width="1.7" height="0.75" fill="#4a4a4a"/>
<text transform="translate(280.30,54.90) rotate(-90)" font-size="3.6" fill="#4a4a4a">8</text>
<path d="M284.62,61.1 L282.32,63.0 L284.62,64.7 M282.22,61.0 L282.22,64.8" stroke="#606060" stroke-width="0.75" fill="none"/>
<ellipse cx="283.32" cy="59.3" rx="1.25" ry="0.85" fill="#262626"/>
<rect x="282.47" y="55.95" width="1.7" height="0.75" fill="#4a4a4a"/>
<text transform="translate(284.52,54.90) rotate(-90)" font-size="3.6" fill="#4a4a4a">8</text>
<path d="M288.84,61.1 L286.54,63.0 L288.84,64.7 M286.44,61.0 L286.44,64.8" stroke="#606060" stroke-width="0.75" fill="none"/>
<ellipse cx="287.54" cy="59.3" rx="1.25" ry="0.85" fill="#262626"/>
<rect x="286.69" y="55.95" width="1.7" height="0.75" fill="#4a4a4a"/>
<text transform="translate(288.74,54.90) rotate(-90)" font-size="3.6" fill="#4a4a4a">8</text>
<path d="M293.06,61.1 L290.76,63.0 L293.06,64.7 M290.66,61.0 L290.66,64.8" stroke="#606060" stroke-width="0.75" fill="none"/>
<ellipse cx="291.76" cy="59.3" rx="1.25" ry="0.85" fill="#262626"/>
<rect x="290.91" y="55.95" width="1.7" height="0.75" fill="#4a4a4a"/>
<text transform="translate(292.96,54.90) rotate(-90)" font-size="3.6" fill="#4a4a4a">8</text>
<path d="M297.29,61.1 L294.99,63.0 L297.29,64.7 M294.89,61.0 L294.89,64.8" stroke="#606060" stroke-width="0.75" fill="none"/>
<ellipse cx="295.99" cy="59.3" rx="1.25" ry="0.85" fill="#262626"/>
<rect x="295.14" y="55.95" width="1.7" height="0.75" fill="#4a4a4a"/>
<text transform="translate(297.19,54.90) rotate(-90)" font-size="3.6" fill="#4a4a4a">8</text>
<path d="M301.51,61.1 L299.21,63.0 L301.51,64.7 M299.11,61.0 L299.11,64.8" stroke="#606060" stroke-width="0.75" fill="none"/>
<ellipse cx="300.21" cy="59.3" rx="1.25" ry="0.85" fill="#262626"/>
<rect x="299.36" y="55.95" width="1.7" height="0.75" fill="#4a4a4a"/>
<text transform="translate(301.41,54.90) rotate(-90)" font-size="3.6" fill="#4a4a4a">8</text>
<path d="M305.73,61.1 L303.43,63.0 L305.73,64.7 M303.33,61.0 L303.33,64.8" stroke="#606060" stroke-width="0.75" fill="none"/>
<ellipse cx="304.43" cy="59.3" rx="1.25" ry="0.85" fill="#262626"/>
<rect x="303.58" y="55.95" width="1.7" height="0.75" fill="#4a4a4a"/>
<text transform="translate(305.63,54.90) rotate(-90)" font-size="3.6" fill="#4a4a4a">8</text>
<path d="M309.95,61.1 L307.65,63.0 L309.95,64.7 M307.55,61.0 L307.55,64.8" stroke="#606060" stroke-width="0.75" fill="none"/>
<ellipse cx="308.65" cy="59.3" rx="1.25" ry="0.85" fill="#262626"/>
<rect x="307.80" y="55.95" width="1.7" height="0.75" fill="#4a4a4a"/>
<text transform="translate(309.85,54.90) rotate(-90)" font-size="3.6" fill="#4a4a4a">8</text>
<path d="M314.18,61.1 L311.88,63.0 L314.18,64.7 M311.78,61.0 L311.78,64.8" stroke="#606060" stroke-width="0.75" fill="none"/>
<ellipse cx="312.88" cy="59.3" rx="1.25" ry="0.85" fill="#262626"/>
<rect x="312.03" y="55.95" width="1.7" height="0.75" fill="#4a4a4a"/>
<text transform="translate(314.08,54.90) rotate(-90)" font-size="3.6" fill="#4a4a4a">8</text>
<path d="M318.40,61.1 L316.10,63.0 L318.40,64.7 M316.00,61.0 L316.00,64.8" stroke="#606060" stroke-width="0.75" fill="none"/>
<ellipse cx="317.10" cy="59.3" rx="1.25" ry="0.85" fill="#262626"/>
<rect x="316.25" y="55.95" width="1.7" height="0.75" fill="#4a4a4a"/>
<text transform="translate(318.30,54.90) rotate(-90)" font-size="3.6" fill="#4a4a4a">8</text>
<path d="M322.62,61.1 L320.32,63.0 L322.62,64.7 M320.22,61.0 L320.22,64.8" stroke="#606060" stroke-width="0.75" fill="none"/>
<ellipse cx="321.32" cy="59.3" rx="1.25" ry="0.85" fill="#262626"/>
<rect x="320.47" y="55.95" width="1.7" height="0.75" fill="#4a4a4a"/>
<text transform="translate(322.52,54.90) rotate(-90)" font-size="3.6" fill="#4a4a4a">8</text>
<path d="M326.84,61.1 L324.54,63.0 L326.84,64.7 M324.44,61.0 L324.44,64.8" stroke="#606060" stroke-width="0.75" fill="none"/>
<ellipse cx="325.54" cy="59.3" rx="1.25" ry="0.85" fill="#262626"/>
<rect x="324.69" y="55.95" width="1.7" height="0.75" fill="#4a4a4a"/>
<text transform="translate(326.74,54.90) rotate(-90)" font-size="3.6" fill="#4a4a4a">8</text>
<path d="M331.07,61.1 L328.77,63.0 L331.07,64.7 M328.67,61.0 L328.67,64.8" stroke="#606060" stroke-width="0.75" fill="none"/>
<ellipse cx="329.77" cy="59.3" rx="1.25" ry="0.85" fill="#262626"/>
<rect x="328.92" y="55.95" width="1.7" height="0.75" fill="#4a4a4a"/>
<text transform="translate(330.97,54.90) rotate(-90)" font-size="3.6" fill="#4a4a4a">8</text>
<path d="M335.29,61.1 L332.99,63.0 L335.29,64.7 M332.89,61.0 L332.89,64.8" stroke="#606060" stroke-width="0.75" fill="none"/>
<ellipse cx="333.99" cy="59.3" rx="1.25" ry="0.85" fill="#262626"/>
<rect x="333.14" y="55.95" width="1.7" height="0.75" fill="#4a4a4a"/>
<text transform="translate(335.19,54.90) rotate(-90)" font-size="3.6" fill="#4a4a4a">8</text>
<path d="M339.51,61.1 L337.21,63.0 L339.51,64.7 M337.11,61.0 L337.11,64.8" stroke="#606060" stroke-width="0.75" fill="none"/>
<ellipse cx="338.21" cy="59.3" rx="1.25" ry="0.85" fill="#262626"/>
<rect x="337.36" y="55.95" width="1.7" height="0.75" fill="#4a4a4a"/>
<text transform="translate(339.41,54.90) rotate(-90)" font-size="3.6" fill="#4a4a4a">8</text>
<path d="M343.73,61.1 L341.43,63.0 L343.73,64.7 M341.33,61.0 L341.33,64.8" stroke="#606060" stroke-width="0.75" fill="none"/>
<ellipse cx="342.43" cy="59.3" rx="1.25" ry="0.85" fill="#262626"/>
<rect x="341.58" y="55.95" width="1.7" height="0.75" fill="#4a4a4a"/>
<text transform="translate(343.63,54.90) rotate(-90)" font-size="3.6" fill="#4a4a4a">8</text>
<path d="M347.96,61.1 L345.66,63.0 L347.96,64.7 M345.56,61.0 L345.56,64.8" stroke="#606060" stroke-width="0.75" fill="none"/>
<ellipse cx="346.66" cy="59.3" rx="1.25" ry="0.85" fill="#262626"/>
<rect x="345.81" y="55.95" width="1.7" height="0.75" fill="#4a4a4a"/>
<text transform="translate(347.86,54.90) rotate(-90)" font-size="3.6" fill="#4a4a4a">8</text>
<path d="M352.18,61.1 L349.88,63.0 L352.18,64.7 M349.78,61.0 L349.78,64.8" stroke="#606060" stroke-width="0.75" fill="none"/>
<ellipse cx="350.88" cy="59.3" rx="1.25" ry="0.85" fill="#262626"/>
<rect x="350.03" y="55.95" width="1.7" height="0.75" fill="#4a4a4a"/>
<text transform="translate(352.08,54.90) rotate(-90)" font-size="3.6" fill="#4a4a4a">8</text>
<path d="M356.40,61.1 L354.10,63.0 L356.40,64.7 M354.00,61.0 L354.00,64.8" stroke="#606060" stroke-width="0.75" fill="none"/>
<ellipse cx="355.10" cy="59.3" rx="1.25" ry="0.85" fill="#262626"/>
<rect x="354.25" y="55.95" width="1.7" height="0.75" fill="#4a4a4a"/>
<text transform="translate(356.30,54.90) rotate(-90)" font-size="3.6" fill="#4a4a4a">8</text>
<path d="M360.62,61.1 L358.32,63.0 L360.62,64.7 M358.22,61.0 L358.22,64.8" stroke="#606060" stroke-width="0.75" fill="none"/>
<ellipse cx="359.32" cy="59.3" rx="1.25" ry="0.85" fill="#262626"/>
<rect x="358.47" y="55.95" width="1.7" height="0.75" fill="#4a4a4a"/>
<text transform="translate(360.52,54.90) rotate(-90)" font-size="3.6" fill="#4a4a4a">8</text>
<path d="M364.85,61.1 L362.55,63.0 L364.85,64.7 M362.45,61.0 L362.45,64.8" stroke="#606060" stroke-width="0.75" fill="none"/>
<ellipse cx="363.55" cy="59.3" rx="1.25" ry="0.85" fill="#262626"/>
<rect x="362.70" y="55.95" width="1.7" height="0.75" fill="#4a4a4a"/>
<text transform="translate(364.75,54.90) rotate(-90)" font-size="3.6" fill="#4a4a4a">8</text>
<path d="M369.07,61.1 L366.77,63.0 L369.07,64.7 M366.67,61.0 L366.67,64.8" stroke="#606060" stroke-width="0.75" fill="none"/>
<ellipse cx="367.77" cy="59.3" rx="1.25" ry="0.85" fill="#262626"/>
<rect x="366.92" y="55.95" width="1.7" height="0.75" fill="#4a4a4a"/>
<text transform="translate(368.97,54.90) rotate(-90)" font-size="3.6" fill="#4a4a4a">8</text>
<path d="M373.29,61.1 L370.99,63.0 L373.29,64.7 M370.89,61.0 L370.89,64.8" stroke="#606060" stroke-width="0.75" fill="none"/>
<ellipse cx="371.99" cy="59.3" rx="1.25" ry="0.85" fill="#262626"/>
<rect x="371.14" y="55.95" width="1.7" height="0.75" fill="#4a4a4a"/>
<text transform="translate(373.19,54.90) rotate(-90)" font-size="3.6" fill="#4a4a4a">8</text>
<path d="M377.51,61.1 L375.21,63.0 L377.51,64.7 M375.11,61.0 L375.11,64.8" stroke="#606060" stroke-width="0.75" fill="none"/>
<ellipse cx="376.21" cy="59.3" rx="1.25" ry="0.85" fill="#262626"/>
<rect x="375.36" y="55.95" width="1.7" height="0.75" fill="#4a4a4a"/>
<text transform="translate(377.41,54.90) rotate(-90)" font-size="3.6" fill="#4a4a4a">8</text>
<path d="M381.74,61.1 L379.44,63.0 L381.74,64.7 M379.34,61.0 L379.34,64.8" stroke="#606060" stroke-width="0.75" fill="none"/>
<ellipse cx="380.44" cy="59.3" rx="1.25" ry="0.85" fill="#262626"/>
<rect x="379.59" y="55.95" width="1.7" height="0.75" fill="#4a4a4a"/>
<text transform="translate(381.64,54.90) rotate(-90)" font-size="3.6" fill="#4a4a4a">8</text>
<path d="M385.96,61.1 L383.66,63.0 L385.96,64.7 M383.56,61.0 L383.56,64.8" stroke="#606060" stroke-width="0.75" fill="none"/>
<ellipse cx="384.66" cy="59.3" rx="1.25" ry="0.85" fill="#262626"/>
<rect x="383.81" y="55.95" width="1.7" height="0.75" fill="#4a4a4a"/>
<text transform="translate(385.86,54.90) rotate(-90)" font-size="3.6" fill="#4a4a4a">8</text>
<path d="M390.18,61.1 L387.88,63.0 L390.18,64.7 M387.78,61.0 L387.78,64.8" stroke="#606060" stroke-width="0.75" fill="none"/>
<ellipse cx="388.88" cy="59.3" rx="1.25" ry="0.85" fill="#262626"/>
<rect x="388.03" y="55.95" width="1.7" height="0.75" fill="#4a4a4a"/>
<text transform="translate(390.08,54.90) rotate(-90)" font-size="3.6" fill="#4a4a4a">8</text>
<path d="M394.40,61.1 L392.10,63.0 L394.40,64.7 M392.00,61.0 L392.00,64.8" stroke="#606060" stroke-width="0.75" fill="none"/>
<ellipse cx="393.10" cy="59.3" rx="1.25" ry="0.85" fill="#262626"/>
<rect x="392.25" y="55.95" width="1.7" height="0.75" fill="#4a4a4a"/>
<text transform="translate(394.30,54.90) rotate(-90)" font-size="3.6" fill="#4a4a4a">8</text>
<path d="M398.63,61.1 L396.33,63.0 L398.63,64.7 M396.23,61.0 L396.23,64.8" stroke="#606060" stroke-width="0.75" fill="none"/>
<ellipse cx="397.33" cy="59.3" rx="1.25" ry="0.85" fill="#262626"/>
<rect x="396.48" y="55.95" width="1.7" height="0.75" fill="#4a4a4a"/>
<text transform="translate(398.53,54.90) rotate(-90)" font-size="3.6" fill="#4a4a4a">8</text>
<path d="M402.85,61.1 L400.55,63.0 L402.85,64.7 M400.45,61.0 L400.45,64.8" stroke="#606060" stroke-width="0.75" fill="none"/>
<ellipse cx="401.55" cy="59.3" rx="1.25" ry="0.85" fill="#262626"/>
<rect x="400.70" y="55.95" width="1.7" height="0.75" fill="#4a4a4a"/>
<text transform="translate(402.75,54.90) rotate(-90)" font-size="3.6" fill="#4a4a4a">8</text>
<path d="M407.07,61.1 L404.77,63.0 L407.07,64.7 M404.67,61.0 L404.67,64.8" stroke="#606060" stroke-width="0.75" fill="none"/>
<ellipse cx="405.77" cy="59.3" rx="1.25" ry="0.85" fill="#262626"/>
<rect x="404.92" y="55.95" width="1.7" height="0.75" fill="#4a4a4a"/>
<text transform="translate(406.97,54.90) rotate(-90)" font-size="3.6" fill="#4a4a4a">8</text>
<path d="M411.29,61.1 L408.99,63.0 L411.29,64.7 M408.89,61.0 L408.89,64.8" stroke="#606060" stroke-width="0.75" fill="none"/>
<ellipse cx="409.99" cy="59.3" rx="1.25" ry="0.85" fill="#262626"/>
<rect x="409.14" y="55.95" width="1.7" height="0.75" fill="#4a4a4a"/>
<text transform="translate(411.19,54.90) rotate(-90)" font-size="3.6" fill="#4a4a4a">8</text>
<path d="M415.52,61.1 L413.22,63.0 L415.52,64.7 M413.12,61.0 L413.12,64.8" stroke="#606060" stroke-width="0.75" fill="none"/>
<ellipse cx="414.22" cy="59.3" rx="1.25" ry="0.85" fill="#262626"/>
<rect x="413.37" y="55.95" width="1.7" height="0.75" fill="#4a4a4a"/>
<text transform="translate(415.42,54.90) rotate(-90)" font-size="3.6" fill="#4a4a4a">8</text>
<path d="M419.74,61.1 L417.44,63.0 L419.74,64.7 M417.34,61.0 L417.34,64.8" stroke="#606060" stroke-width="0.75" fill="none"/>
<ellipse cx="418.44" cy="59.3" rx="1.25" ry="0.85" fill="#262626"/>
<rect x="417.59" y="55.95" width="1.7" height="0.75" fill="#4a4a4a"/>
<text transform="translate(419.64,54.90) rotate(-90)" font-size="3.6" fill="#4a4a4a">8</text>
<text transform="translate(60.91,53.9) rotate(-90)" font-size="4.0" fill="#5a5a5a" stroke="#5a5a5a" stroke-width="0.12" textLength="8.0" lengthAdjust="spacingAndGlyphs">SS</text>
<text transform="translate(65.13,53.9) rotate(-90)" font-size="4.0" fill="#5a5a5a" stroke="#5a5a5a" stroke-width="0.12" textLength="8.0" lengthAdjust="spacingAndGlyphs">SS</text>
<text transform="translate(73.58,53.9) rotate(-90)" font-size="4.0" fill="#5a5a5a" stroke="#5a5a5a" stroke-width="0.12" textLength="8.0" lengthAdjust="spacingAndGlyphs">SS</text>
<text transform="translate(77.80,53.9) rotate(-90)" font-size="4.0" fill="#5a5a5a" stroke="#5a5a5a" stroke-width="0.12" textLength="8.0" lengthAdjust="spacingAndGlyphs">SS</text>
<text transform="translate(86.25,53.9) rotate(-90)" font-size="4.0" fill="#5a5a5a" stroke="#5a5a5a" stroke-width="0.12" textLength="8.0" lengthAdjust="spacingAndGlyphs">SS</text>
<text transform="translate(90.47,53.9) rotate(-90)" font-size="4.0" fill="#5a5a5a" stroke="#5a5a5a" stroke-width="0.12" textLength="8.0" lengthAdjust="spacingAndGlyphs">SS</text>
<text transform="translate(103.24,54.6) rotate(-90)" font-size="4.1" fill="#555" stroke="#555" stroke-width="0.1" textLength="6.6" lengthAdjust="spacingAndGlyphs">OO</text>
<text transform="translate(107.46,54.6) rotate(-90)" font-size="4.1" fill="#555" stroke="#555" stroke-width="0.1" textLength="6.6" lengthAdjust="spacingAndGlyphs">OO</text>
<text transform="translate(339.51,51.4) rotate(-90)" font-size="3.8" fill="#555" textLength="4.4" lengthAdjust="spacingAndGlyphs">72</text>
<text transform="translate(343.73,51.4) rotate(-90)" font-size="3.8" fill="#555" textLength="4.4" lengthAdjust="spacingAndGlyphs">72</text>
<text x="6.8" y="104.9" font-size="10.4" font-weight="bold" fill="#111" stroke="#111" stroke-width="0.35">A</text>
<text transform="translate(25.80,146.80) rotate(-90)" font-size="8.0" text-anchor="middle" fill="#111" stroke="#111" stroke-width="0.32" textLength="40.5" lengthAdjust="spacingAndGlyphs">SNVs per mbp</text>
<line x1="47.40" y1="111.20" x2="47.40" y2="143.30" stroke="#1a1a1a" stroke-width="0.95"/>
<line x1="44.40" y1="114.00" x2="47.40" y2="114.00" stroke="#1a1a1a" stroke-width="0.85"/>
<text transform="translate(41.00,116.15) scale(1.0,1)" font-size="6.2" text-anchor="end" fill="#222" stroke="#222" stroke-width="0.05" font-weight="normal">4</text>
<line x1="44.40" y1="123.10" x2="47.40" y2="123.10" stroke="#1a1a1a" stroke-width="0.85"/>
<text transform="translate(41.00,125.25) scale(1.0,1)" font-size="6.2" text-anchor="end" fill="#222" stroke="#222" stroke-width="0.05" font-weight="normal">3</text>
<line x1="44.40" y1="132.20" x2="47.40" y2="132.20" stroke="#1a1a1a" stroke-width="0.85"/>
<text transform="translate(41.00,134.35) scale(1.0,1)" font-size="6.2" text-anchor="end" fill="#222" stroke="#222" stroke-width="0.05" font-weight="normal">2</text>
<line x1="44.40" y1="141.30" x2="47.40" y2="141.30" stroke="#1a1a1a" stroke-width="0.85"/>
<text transform="translate(41.00,143.45) scale(1.0,1)" font-size="6.2" text-anchor="end" fill="#222" stroke="#222" stroke-width="0.05" font-weight="normal">1</text>
<line x1="47.10" y1="143.30" x2="49.00" y2="144.50" stroke="#1a1a1a" stroke-width="0.8"/>
<line x1="47.40" y1="149.60" x2="47.40" y2="179.20" stroke="#1a1a1a" stroke-width="0.95"/>
<line x1="44.40" y1="150.00" x2="47.40" y2="150.00" stroke="#1a1a1a" stroke-width="0.85"/>
<text transform="translate(41.00,152.15) scale(1.0,1)" font-size="6.2" text-anchor="end" fill="#222" stroke="#222" stroke-width="0.05" font-weight="normal">0.8</text>
<line x1="44.40" y1="157.10" x2="47.40" y2="157.10" stroke="#1a1a1a" stroke-width="0.85"/>
<text transform="translate(41.00,159.25) scale(1.0,1)" font-size="6.2" text-anchor="end" fill="#222" stroke="#222" stroke-width="0.05" font-weight="normal">0.6</text>
<line x1="44.40" y1="164.30" x2="47.40" y2="164.30" stroke="#1a1a1a" stroke-width="0.85"/>
<text transform="translate(41.00,166.45) scale(1.0,1)" font-size="6.2" text-anchor="end" fill="#222" stroke="#222" stroke-width="0.05" font-weight="normal">0.4</text>
<line x1="44.40" y1="171.40" x2="47.40" y2="171.40" stroke="#1a1a1a" stroke-width="0.85"/>
<text transform="translate(41.00,173.55) scale(1.0,1)" font-size="6.2" text-anchor="end" fill="#222" stroke="#222" stroke-width="0.05" font-weight="normal">0.2</text>
<line x1="44.40" y1="178.60" x2="47.40" y2="178.60" stroke="#1a1a1a" stroke-width="0.85"/>
<text transform="translate(41.00,180.75) scale(1.0,1)" font-size="6.2" text-anchor="end" fill="#222" stroke="#222" stroke-width="0.05" font-weight="normal">0.0</text>
<line x1="47.20" y1="149.80" x2="49.20" y2="149.80" stroke="#1a1a1a" stroke-width="0.8"/>
<rect x="58.15" y="172.00" width="3.55" height="6.70" fill="#2c4981"/>
<rect x="62.37" y="175.00" width="3.55" height="3.70" fill="#2c4981"/>
<rect x="66.60" y="172.90" width="3.55" height="5.80" fill="#2c4981"/>
<rect x="70.82" y="175.00" width="3.55" height="3.70" fill="#2c4981"/>
<rect x="75.04" y="172.20" width="3.55" height="6.50" fill="#2c4981"/>
<rect x="79.26" y="163.60" width="3.55" height="15.10" fill="#2c4981"/>
<rect x="83.48" y="172.90" width="3.55" height="5.80" fill="#2c4981"/>
<rect x="87.71" y="172.00" width="3.55" height="6.70" fill="#2c4981"/>
<rect x="91.93" y="163.60" width="3.55" height="15.10" fill="#2c4981"/>
<rect x="96.15" y="174.00" width="3.55" height="4.70" fill="#2c4981"/>
<rect x="100.38" y="176.00" width="3.55" height="2.70" fill="#2c4981"/>
<rect x="104.60" y="171.50" width="3.55" height="7.20" fill="#2c4981"/>
<rect x="108.82" y="175.70" width="3.55" height="3.00" fill="#2c4981"/>
<rect x="113.04" y="171.20" width="3.55" height="7.50" fill="#2c4981"/>
<rect x="117.27" y="174.00" width="3.55" height="4.70" fill="#2c4981"/>
<rect x="121.49" y="176.10" width="3.55" height="2.60" fill="#2c4981"/>
<rect x="125.71" y="174.30" width="3.55" height="4.40" fill="#2c4981"/>
<rect x="129.93" y="174.30" width="3.55" height="4.40" fill="#2c4981"/>
<rect x="134.15" y="173.50" width="3.55" height="5.20" fill="#2c4981"/>
<rect x="138.38" y="175.50" width="3.55" height="3.20" fill="#2c4981"/>
<rect x="142.60" y="172.90" width="3.55" height="5.80" fill="#2c4981"/>
<rect x="146.82" y="166.20" width="3.55" height="12.50" fill="#2c4981"/>
<rect x="151.05" y="169.70" width="3.55" height="9.00" fill="#2c4981"/>
<rect x="155.27" y="173.10" width="3.55" height="5.60" fill="#2c4981"/>
<rect x="159.49" y="174.00" width="3.55" height="4.70" fill="#2c4981"/>
<rect x="167.95" y="160.20" width="3.55" height="18.50" fill="#2c4981"/>
<rect x="172.17" y="160.40" width="3.55" height="18.30" fill="#2c4981"/>
<rect x="176.39" y="150.00" width="3.55" height="28.70" fill="#2c4981"/>
<rect x="176.99" y="141.80" width="2.35" height="1.00" fill="#6a7aa2"/>
<rect x="180.62" y="157.80" width="3.55" height="20.90" fill="#2c4981"/>
<rect x="184.84" y="150.00" width="3.55" height="28.70" fill="#2c4981"/>
<rect x="184.84" y="133.00" width="3.55" height="9.80" fill="#2c4981"/>
<rect x="189.06" y="150.00" width="3.55" height="28.70" fill="#2c4981"/>
<rect x="189.06" y="139.80" width="3.55" height="3.00" fill="#2c4981"/>
<rect x="193.28" y="160.10" width="3.55" height="18.60" fill="#2c4981"/>
<rect x="197.51" y="150.00" width="3.55" height="28.70" fill="#2c4981"/>
<rect x="197.51" y="127.00" width="3.55" height="15.80" fill="#2c4981"/>
<rect x="201.73" y="151.00" width="3.55" height="27.70" fill="#2c4981"/>
<rect x="206.55" y="177.70" width="2.35" height="1.00" fill="#6a7aa2"/>
<rect x="210.17" y="150.00" width="3.55" height="28.70" fill="#2c4981"/>
<rect x="210.17" y="139.10" width="3.55" height="3.70" fill="#2c4981"/>
<rect x="214.40" y="150.00" width="3.55" height="28.70" fill="#2c4981"/>
<rect x="214.40" y="136.30" width="3.55" height="6.50" fill="#2c4981"/>
<rect x="219.22" y="177.70" width="2.35" height="1.00" fill="#6a7aa2"/>
<rect x="222.84" y="164.50" width="3.55" height="14.20" fill="#2c4981"/>
<rect x="227.66" y="177.70" width="2.35" height="1.00" fill="#6a7aa2"/>
<rect x="231.89" y="177.70" width="2.35" height="1.00" fill="#6a7aa2"/>
<rect x="235.51" y="150.00" width="3.55" height="28.70" fill="#2c4981"/>
<rect x="235.51" y="130.10" width="3.55" height="12.70" fill="#2c4981"/>
<rect x="239.73" y="166.00" width="3.55" height="12.70" fill="#2c4981"/>
<rect x="243.95" y="172.30" width="3.55" height="6.40" fill="#2c4981"/>
<rect x="248.18" y="172.30" width="3.55" height="6.40" fill="#2c4981"/>
<rect x="252.40" y="166.80" width="3.55" height="11.90" fill="#2c4981"/>
<rect x="256.62" y="172.50" width="3.55" height="6.20" fill="#2c4981"/>
<rect x="260.84" y="172.50" width="3.55" height="6.20" fill="#2c4981"/>
<rect x="265.67" y="177.70" width="2.35" height="1.00" fill="#6a7aa2"/>
<rect x="269.29" y="172.50" width="3.55" height="6.20" fill="#2c4981"/>
<rect x="274.11" y="177.70" width="2.35" height="1.00" fill="#6a7aa2"/>
<rect x="278.33" y="177.70" width="2.35" height="1.00" fill="#6a7aa2"/>
<rect x="282.56" y="177.70" width="2.35" height="1.00" fill="#6a7aa2"/>
<rect x="286.78" y="177.70" width="2.35" height="1.00" fill="#6a7aa2"/>
<rect x="290.40" y="166.90" width="3.55" height="11.80" fill="#2c4981"/>
<rect x="295.23" y="177.70" width="2.35" height="1.00" fill="#6a7aa2"/>
<rect x="298.85" y="172.50" width="3.55" height="6.20" fill="#2c4981"/>
<rect x="303.07" y="166.50" width="3.55" height="12.20" fill="#2c4981"/>
<rect x="307.29" y="172.50" width="3.55" height="6.20" fill="#2c4981"/>
<rect x="311.51" y="172.50" width="3.55" height="6.20" fill="#2c4981"/>
<rect x="316.34" y="177.70" width="2.35" height="1.00" fill="#6a7aa2"/>
<rect x="320.56" y="177.70" width="2.35" height="1.00" fill="#6a7aa2"/>
<rect x="324.18" y="154.50" width="3.55" height="24.20" fill="#2c4981"/>
<rect x="328.41" y="172.40" width="3.55" height="6.30" fill="#2c4981"/>
<rect x="332.63" y="154.50" width="3.55" height="24.20" fill="#2c4981"/>
<rect x="337.45" y="177.70" width="2.35" height="1.00" fill="#6a7aa2"/>
<rect x="341.07" y="160.20" width="3.55" height="18.50" fill="#2c4981"/>
<rect x="345.90" y="177.70" width="2.35" height="1.00" fill="#6a7aa2"/>
<rect x="349.52" y="172.30" width="3.55" height="6.40" fill="#2c4981"/>
<rect x="353.74" y="160.60" width="3.55" height="18.10" fill="#2c4981"/>
<rect x="358.56" y="177.70" width="2.35" height="1.00" fill="#6a7aa2"/>
<rect x="362.19" y="160.80" width="3.55" height="17.90" fill="#2c4981"/>
<rect x="366.41" y="172.30" width="3.55" height="6.40" fill="#2c4981"/>
<rect x="370.63" y="172.30" width="3.55" height="6.40" fill="#2c4981"/>
<rect x="375.45" y="177.70" width="2.35" height="1.00" fill="#6a7aa2"/>
<rect x="379.68" y="177.70" width="2.35" height="1.00" fill="#6a7aa2"/>
<rect x="383.30" y="172.30" width="3.55" height="6.40" fill="#2c4981"/>
<rect x="387.52" y="166.00" width="3.55" height="12.70" fill="#2c4981"/>
<rect x="391.74" y="172.30" width="3.55" height="6.40" fill="#2c4981"/>
<rect x="395.96" y="160.20" width="3.55" height="18.50" fill="#2c4981"/>
<rect x="400.19" y="172.30" width="3.55" height="6.40" fill="#2c4981"/>
<rect x="405.01" y="177.70" width="2.35" height="1.00" fill="#6a7aa2"/>
<rect x="408.63" y="172.30" width="3.55" height="6.40" fill="#2c4981"/>
<rect x="412.85" y="149.90" width="3.55" height="28.80" fill="#2c4981"/>
<rect x="417.08" y="172.30" width="3.55" height="6.40" fill="#2c4981"/>
<text x="6.8" y="208.2" font-size="10.4" font-weight="bold" fill="#111" stroke="#111" stroke-width="0.35">B</text>
<text transform="translate(27.40,249.80) rotate(-90)" font-size="8.0" text-anchor="middle" fill="#111" stroke="#111" stroke-width="0.32" textLength="48.4" lengthAdjust="spacingAndGlyphs">Number of SNVs</text>
<line x1="47.40" y1="214.40" x2="47.40" y2="246.40" stroke="#1a1a1a" stroke-width="0.95"/>
<line x1="44.40" y1="217.00" x2="47.40" y2="217.00" stroke="#1a1a1a" stroke-width="0.85"/>
<text transform="translate(41.00,219.15) scale(1.0,1)" font-size="6.2" text-anchor="end" fill="#222" stroke="#222" stroke-width="0.05" font-weight="normal">50</text>
<line x1="44.40" y1="225.50" x2="47.40" y2="225.50" stroke="#1a1a1a" stroke-width="0.85"/>
<text transform="translate(41.00,227.65) scale(1.0,1)" font-size="6.2" text-anchor="end" fill="#222" stroke="#222" stroke-width="0.05" font-weight="normal">40</text>
<line x1="44.40" y1="233.80" x2="47.40" y2="233.80" stroke="#1a1a1a" stroke-width="0.85"/>
<text transform="translate(41.00,235.95) scale(1.0,1)" font-size="6.2" text-anchor="end" fill="#222" stroke="#222" stroke-width="0.05" font-weight="normal">30</text>
<line x1="44.40" y1="242.20" x2="47.40" y2="242.20" stroke="#1a1a1a" stroke-width="0.85"/>
<text transform="translate(41.00,244.35) scale(1.0,1)" font-size="6.2" text-anchor="end" fill="#222" stroke="#222" stroke-width="0.05" font-weight="normal">20</text>
<line x1="47.10" y1="246.40" x2="49.00" y2="247.60" stroke="#1a1a1a" stroke-width="0.8"/>
<line x1="47.40" y1="252.80" x2="47.40" y2="283.20" stroke="#1a1a1a" stroke-width="0.95"/>
<line x1="44.40" y1="253.10" x2="47.40" y2="253.10" stroke="#1a1a1a" stroke-width="0.85"/>
<text transform="translate(41.00,255.25) scale(1.0,1)" font-size="6.2" text-anchor="end" fill="#222" stroke="#222" stroke-width="0.05" font-weight="normal">15</text>
<line x1="44.40" y1="262.90" x2="47.40" y2="262.90" stroke="#1a1a1a" stroke-width="0.85"/>
<text transform="translate(41.00,265.05) scale(1.0,1)" font-size="6.2" text-anchor="end" fill="#222" stroke="#222" stroke-width="0.05" font-weight="normal">10</text>
<line x1="44.40" y1="272.70" x2="47.40" y2="272.70" stroke="#1a1a1a" stroke-width="0.85"/>
<text transform="translate(41.00,274.85) scale(1.0,1)" font-size="6.2" text-anchor="end" fill="#222" stroke="#222" stroke-width="0.05" font-weight="normal">5</text>
<line x1="44.40" y1="282.50" x2="47.40" y2="282.50" stroke="#1a1a1a" stroke-width="0.85"/>
<text transform="translate(41.00,284.65) scale(1.0,1)" font-size="6.2" text-anchor="end" fill="#222" stroke="#222" stroke-width="0.05" font-weight="normal">0</text>
<line x1="47.20" y1="253.00" x2="49.20" y2="253.00" stroke="#1a1a1a" stroke-width="0.8"/>
<rect x="57.80" y="255.00" width="4.09" height="27.50" fill="#2c4981"/>
<rect x="57.80" y="253.20" width="4.09" height="1.80" fill="#5ba83c"/>
<rect x="62.04" y="266.40" width="4.09" height="16.10" fill="#2c4981"/>
<rect x="62.04" y="265.20" width="4.09" height="1.20" fill="#9c90cc"/>
<rect x="66.29" y="265.20" width="4.09" height="17.30" fill="#2c4981"/>
<rect x="66.29" y="257.20" width="4.09" height="8.00" fill="#5ba83c"/>
<rect x="66.29" y="255.20" width="4.09" height="2.00" fill="#e99a22"/>
<rect x="70.53" y="271.00" width="4.09" height="11.50" fill="#2c4981"/>
<rect x="70.53" y="268.80" width="4.09" height="2.20" fill="#5ba83c"/>
<rect x="70.53" y="266.80" width="4.09" height="2.00" fill="#e99a22"/>
<rect x="70.53" y="265.20" width="4.09" height="1.60" fill="#b0102c"/>
<rect x="74.78" y="265.00" width="4.09" height="17.50" fill="#2c4981"/>
<rect x="74.78" y="259.20" width="4.09" height="5.80" fill="#5ba83c"/>
<rect x="74.78" y="255.00" width="4.09" height="4.20" fill="#e99a22"/>
<rect x="74.78" y="253.20" width="4.09" height="1.80" fill="#b0102c"/>
<rect x="79.03" y="253.20" width="4.09" height="29.30" fill="#2c4981"/>
<rect x="83.27" y="267.00" width="4.09" height="15.50" fill="#2c4981"/>
<rect x="83.27" y="261.00" width="4.09" height="6.00" fill="#5ba83c"/>
<rect x="83.27" y="259.20" width="4.09" height="1.80" fill="#e99a22"/>
<rect x="87.52" y="268.80" width="4.09" height="13.70" fill="#2c4981"/>
<rect x="87.52" y="255.20" width="4.09" height="13.60" fill="#5ba83c"/>
<rect x="91.76" y="253.20" width="4.09" height="29.30" fill="#2c4981"/>
<rect x="96.00" y="269.20" width="4.09" height="13.30" fill="#2c4981"/>
<rect x="96.00" y="262.80" width="4.09" height="6.40" fill="#5ba83c"/>
<rect x="96.00" y="260.80" width="4.09" height="2.00" fill="#e99a22"/>
<rect x="100.25" y="276.90" width="4.09" height="5.60" fill="#2c4981"/>
<rect x="100.25" y="273.10" width="4.09" height="3.80" fill="#5ba83c"/>
<rect x="100.25" y="271.00" width="4.09" height="2.10" fill="#b0102c"/>
<rect x="104.50" y="259.00" width="4.09" height="23.50" fill="#2c4981"/>
<rect x="104.50" y="253.30" width="4.09" height="5.70" fill="#5ba83c"/>
<rect x="108.74" y="270.60" width="4.09" height="11.90" fill="#2c4981"/>
<rect x="108.74" y="268.75" width="4.09" height="1.85" fill="#5ba83c"/>
<rect x="112.98" y="255.00" width="4.09" height="27.50" fill="#2c4981"/>
<rect x="112.98" y="253.10" width="4.09" height="1.90" fill="#5ba83c"/>
<rect x="117.23" y="271.00" width="4.09" height="11.50" fill="#2c4981"/>
<rect x="117.23" y="262.90" width="4.09" height="8.10" fill="#5ba83c"/>
<rect x="117.23" y="261.00" width="4.09" height="1.90" fill="#e99a22"/>
<rect x="121.47" y="278.50" width="4.09" height="4.00" fill="#2c4981"/>
<rect x="121.47" y="276.60" width="4.09" height="1.90" fill="#5ba83c"/>
<rect x="125.72" y="276.90" width="4.09" height="5.60" fill="#2c4981"/>
<rect x="125.72" y="271.00" width="4.09" height="5.90" fill="#5ba83c"/>
<rect x="129.97" y="265.00" width="4.09" height="17.50" fill="#2c4981"/>
<rect x="129.97" y="262.90" width="4.09" height="2.10" fill="#5ba83c"/>
<rect x="134.21" y="274.75" width="4.09" height="7.75" fill="#2c4981"/>
<rect x="134.21" y="272.90" width="4.09" height="1.85" fill="#5ba83c"/>
<rect x="134.21" y="271.00" width="4.09" height="1.90" fill="#b0102c"/>
<rect x="138.45" y="275.00" width="4.09" height="7.50" fill="#2c4981"/>
<rect x="142.70" y="265.00" width="4.09" height="17.50" fill="#2c4981"/>
<rect x="142.70" y="255.00" width="4.09" height="10.00" fill="#5ba83c"/>
<rect x="146.94" y="253.30" width="4.09" height="29.20" fill="#2c4981"/>
<rect x="151.19" y="261.00" width="4.09" height="21.50" fill="#2c4981"/>
<rect x="151.19" y="253.30" width="4.09" height="7.70" fill="#5ba83c"/>
<rect x="155.44" y="266.90" width="4.09" height="15.60" fill="#2c4981"/>
<rect x="155.44" y="262.90" width="4.09" height="4.00" fill="#5ba83c"/>
<rect x="155.44" y="259.00" width="4.09" height="3.90" fill="#e99a22"/>
<rect x="159.68" y="271.00" width="4.09" height="11.50" fill="#2c4981"/>
<rect x="159.68" y="265.00" width="4.09" height="6.00" fill="#5ba83c"/>
<rect x="159.68" y="262.90" width="4.09" height="2.10" fill="#b0102c"/>
<rect x="79.03" y="236.60" width="4.09" height="9.90" fill="#2c4981"/>
<rect x="79.03" y="231.20" width="4.09" height="5.40" fill="#5ba83c"/>
<rect x="79.03" y="229.20" width="4.09" height="2.00" fill="#e99a22"/>
<rect x="79.03" y="228.00" width="4.09" height="1.20" fill="#b0102c"/>
<rect x="91.76" y="239.20" width="4.09" height="7.30" fill="#2c4981"/>
<rect x="91.76" y="231.60" width="4.09" height="7.60" fill="#5ba83c"/>
<rect x="91.76" y="229.80" width="4.09" height="1.80" fill="#b0102c"/>
<rect x="91.76" y="229.20" width="4.09" height="0.60" fill="#9c90cc"/>
<rect x="104.50" y="245.70" width="4.09" height="0.80" fill="#e99a22"/>
<rect x="104.50" y="245.00" width="4.09" height="0.70" fill="#b0102c"/>
<rect x="112.98" y="245.00" width="4.09" height="1.50" fill="#5ba83c"/>
<rect x="112.98" y="244.00" width="4.09" height="1.00" fill="#b0102c"/>
<rect x="146.94" y="241.00" width="4.09" height="5.50" fill="#2c4981"/>
<rect x="146.94" y="238.50" width="4.09" height="2.50" fill="#5ba83c"/>
<rect x="146.94" y="236.90" width="4.09" height="1.60" fill="#e99a22"/>
<rect x="146.94" y="236.00" width="4.09" height="0.90" fill="#9c90cc"/>
<rect x="151.19" y="243.10" width="4.09" height="3.40" fill="#5ba83c"/>
<rect x="151.19" y="241.50" width="4.09" height="1.60" fill="#e99a22"/>
<rect x="168.40" y="278.80" width="4.08" height="3.70" fill="#2c4981"/>
<rect x="168.40" y="276.80" width="4.08" height="2.00" fill="#e99a22"/>
<rect x="172.64" y="278.80" width="4.08" height="3.70" fill="#2c4981"/>
<rect x="172.64" y="276.80" width="4.08" height="2.00" fill="#e99a22"/>
<rect x="176.87" y="276.80" width="4.08" height="5.70" fill="#2c4981"/>
<rect x="176.87" y="272.80" width="4.08" height="4.00" fill="#e99a22"/>
<rect x="181.11" y="281.00" width="4.08" height="1.50" fill="#2c4981"/>
<rect x="185.34" y="276.80" width="4.08" height="5.70" fill="#2c4981"/>
<rect x="185.34" y="270.80" width="4.08" height="6.00" fill="#e99a22"/>
<rect x="185.34" y="268.70" width="4.08" height="2.10" fill="#b0102c"/>
<rect x="189.58" y="272.80" width="4.08" height="9.70" fill="#2c4981"/>
<rect x="189.58" y="268.70" width="4.08" height="4.10" fill="#e99a22"/>
<rect x="193.81" y="276.80" width="4.08" height="5.70" fill="#2c4981"/>
<rect x="198.05" y="257.00" width="4.08" height="25.50" fill="#2c4981"/>
<rect x="198.05" y="255.30" width="4.08" height="1.70" fill="#5ba83c"/>
<rect x="198.05" y="253.30" width="4.08" height="2.00" fill="#e99a22"/>
<rect x="202.28" y="278.80" width="4.08" height="3.70" fill="#2c4981"/>
<rect x="202.28" y="276.80" width="4.08" height="2.00" fill="#5ba83c"/>
<rect x="210.75" y="272.80" width="4.08" height="9.70" fill="#2c4981"/>
<rect x="210.75" y="268.70" width="4.08" height="4.10" fill="#5ba83c"/>
<rect x="214.99" y="270.80" width="4.08" height="11.70" fill="#2c4981"/>
<rect x="214.99" y="265.00" width="4.08" height="5.80" fill="#5ba83c"/>
<rect x="223.46" y="281.00" width="4.08" height="1.50" fill="#2c4981"/>
<rect x="236.16" y="266.90" width="4.08" height="15.60" fill="#2c4981"/>
<rect x="236.16" y="256.90" width="4.08" height="10.00" fill="#5ba83c"/>
<rect x="240.40" y="278.50" width="4.08" height="4.00" fill="#2c4981"/>
<rect x="244.63" y="280.70" width="4.08" height="1.80" fill="#2c4981"/>
<rect x="248.87" y="280.70" width="4.08" height="1.80" fill="#5ba83c"/>
<rect x="253.10" y="280.70" width="4.08" height="1.80" fill="#2c4981"/>
<rect x="253.10" y="278.70" width="4.08" height="2.00" fill="#5ba83c"/>
<rect x="257.34" y="280.70" width="4.08" height="1.80" fill="#5ba83c"/>
<rect x="261.57" y="280.70" width="4.08" height="1.80" fill="#2c4981"/>
<rect x="270.04" y="280.70" width="4.08" height="1.80" fill="#5ba83c"/>
<rect x="291.22" y="280.70" width="4.08" height="1.80" fill="#2c4981"/>
<rect x="291.22" y="278.70" width="4.08" height="2.00" fill="#9c90cc"/>
<rect x="299.69" y="280.70" width="4.08" height="1.80" fill="#2c4981"/>
<rect x="303.92" y="280.70" width="4.08" height="1.80" fill="#2c4981"/>
<rect x="303.92" y="278.70" width="4.08" height="2.00" fill="#5ba83c"/>
<rect x="308.16" y="280.70" width="4.08" height="1.80" fill="#e99a22"/>
<rect x="312.39" y="280.70" width="4.08" height="1.80" fill="#2c4981"/>
<rect x="325.10" y="278.70" width="4.08" height="3.80" fill="#2c4981"/>
<rect x="325.10" y="275.00" width="4.08" height="3.70" fill="#5ba83c"/>
<rect x="329.33" y="280.70" width="4.08" height="1.80" fill="#2c4981"/>
<rect x="333.57" y="278.70" width="4.08" height="3.80" fill="#2c4981"/>
<rect x="333.57" y="275.00" width="4.08" height="3.70" fill="#5ba83c"/>
<rect x="342.04" y="278.70" width="4.08" height="3.80" fill="#2c4981"/>
<rect x="342.04" y="276.80" width="4.08" height="1.90" fill="#5ba83c"/>
<rect x="350.50" y="280.70" width="4.08" height="1.80" fill="#2c4981"/>
<rect x="354.74" y="280.70" width="4.08" height="1.80" fill="#2c4981"/>
<rect x="354.74" y="276.80" width="4.08" height="3.90" fill="#5ba83c"/>
<rect x="363.21" y="280.70" width="4.08" height="1.80" fill="#5ba83c"/>
<rect x="363.21" y="278.70" width="4.08" height="2.00" fill="#e99a22"/>
<rect x="363.21" y="276.80" width="4.08" height="1.90" fill="#9c90cc"/>
<rect x="367.45" y="280.70" width="4.08" height="1.80" fill="#5ba83c"/>
<rect x="371.68" y="280.70" width="4.08" height="1.80" fill="#2c4981"/>
<rect x="384.38" y="280.70" width="4.08" height="1.80" fill="#2c4981"/>
<rect x="388.62" y="280.70" width="4.08" height="1.80" fill="#2c4981"/>
<rect x="388.62" y="278.70" width="4.08" height="2.00" fill="#5ba83c"/>
<rect x="392.86" y="280.70" width="4.08" height="1.80" fill="#2c4981"/>
<rect x="397.09" y="278.70" width="4.08" height="3.80" fill="#2c4981"/>
<rect x="397.09" y="276.80" width="4.08" height="1.90" fill="#5ba83c"/>
<rect x="401.33" y="280.70" width="4.08" height="1.80" fill="#2c4981"/>
<rect x="409.80" y="280.70" width="4.08" height="1.80" fill="#5ba83c"/>
<rect x="414.03" y="275.00" width="4.08" height="7.50" fill="#2c4981"/>
<rect x="418.26" y="280.70" width="4.08" height="1.80" fill="#5ba83c"/>
<rect x="446.80" y="230.40" width="10.00" height="6.40" fill="#2c4981"/>
<text transform="translate(459.80,235.50) scale(0.88,1)" font-size="5.7" text-anchor="start" fill="#111" stroke="#111" stroke-width="0.09" font-weight="normal">nonsynonymous</text>
<rect x="446.80" y="238.60" width="10.00" height="6.40" fill="#5ba83c"/>
<text transform="translate(459.80,243.70) scale(0.88,1)" font-size="5.7" text-anchor="start" fill="#111" stroke="#111" stroke-width="0.09" font-weight="normal">synonymous</text>
<rect x="446.80" y="246.80" width="10.00" height="6.40" fill="#b8702a"/>
<text transform="translate(459.80,251.90) scale(0.88,1)" font-size="5.7" text-anchor="start" fill="#111" stroke="#111" stroke-width="0.09" font-weight="normal">stopgain</text>
<rect x="446.80" y="255.00" width="10.00" height="6.40" fill="#b0102c"/>
<text transform="translate(459.80,260.10) scale(0.88,1)" font-size="5.7" text-anchor="start" fill="#111" stroke="#111" stroke-width="0.09" font-weight="normal">splicing</text>
<rect x="446.80" y="263.20" width="10.00" height="6.40" fill="#9c90cc"/>
<text transform="translate(459.80,268.30) scale(0.88,1)" font-size="5.7" text-anchor="start" fill="#111" stroke="#111" stroke-width="0.09" font-weight="normal">unknown</text>
<text x="6.8" y="311.6" font-size="10.4" font-weight="bold" fill="#111" stroke="#111" stroke-width="0.35">C</text>
<text transform="translate(27.40,353.40) rotate(-90)" font-size="8.0" text-anchor="middle" fill="#111" stroke="#111" stroke-width="0.32" textLength="48.7" lengthAdjust="spacingAndGlyphs">Number of indels</text>
<line x1="46.80" y1="318.20" x2="46.80" y2="387.40" stroke="#1a1a1a" stroke-width="0.95"/>
<line x1="43.80" y1="320.30" x2="46.80" y2="320.30" stroke="#1a1a1a" stroke-width="0.85"/>
<text transform="translate(40.40,322.45) scale(1.0,1)" font-size="6.2" text-anchor="end" fill="#222" stroke="#222" stroke-width="0.05" font-weight="normal">25</text>
<line x1="43.80" y1="333.40" x2="46.80" y2="333.40" stroke="#1a1a1a" stroke-width="0.85"/>
<text transform="translate(40.40,335.55) scale(1.0,1)" font-size="6.2" text-anchor="end" fill="#222" stroke="#222" stroke-width="0.05" font-weight="normal">20</text>
<line x1="43.80" y1="346.50" x2="46.80" y2="346.50" stroke="#1a1a1a" stroke-width="0.85"/>
<text transform="translate(40.40,348.65) scale(1.0,1)" font-size="6.2" text-anchor="end" fill="#222" stroke="#222" stroke-width="0.05" font-weight="normal">15</text>
<line x1="43.80" y1="359.60" x2="46.80" y2="359.60" stroke="#1a1a1a" stroke-width="0.85"/>
<text transform="translate(40.40,361.75) scale(1.0,1)" font-size="6.2" text-anchor="end" fill="#222" stroke="#222" stroke-width="0.05" font-weight="normal">10</text>
<line x1="43.80" y1="372.60" x2="46.80" y2="372.60" stroke="#1a1a1a" stroke-width="0.85"/>
<text transform="translate(40.40,374.75) scale(1.0,1)" font-size="6.2" text-anchor="end" fill="#222" stroke="#222" stroke-width="0.05" font-weight="normal">5</text>
<line x1="43.80" y1="385.70" x2="46.80" y2="385.70" stroke="#1a1a1a" stroke-width="0.85"/>
<text transform="translate(40.40,387.85) scale(1.0,1)" font-size="6.2" text-anchor="end" fill="#222" stroke="#222" stroke-width="0.05" font-weight="normal">0</text>
<rect x="57.80" y="383.18" width="4.09" height="2.62" fill="#2c4981"/>
<rect x="62.04" y="383.18" width="4.09" height="2.62" fill="#2c4981"/>
<rect x="74.78" y="383.18" width="4.09" height="2.62" fill="#2c4981"/>
<rect x="79.03" y="383.18" width="4.09" height="2.62" fill="#2c4981"/>
<rect x="79.03" y="380.56" width="4.09" height="2.62" fill="#5ba83c"/>
<rect x="87.52" y="383.18" width="4.09" height="2.62" fill="#2c4981"/>
<rect x="87.52" y="380.56" width="4.09" height="2.62" fill="#b0102c"/>
<rect x="91.76" y="367.46" width="4.09" height="18.34" fill="#2c4981"/>
<rect x="91.76" y="364.84" width="4.09" height="2.62" fill="#5ba83c"/>
<rect x="100.25" y="380.56" width="4.09" height="5.24" fill="#2c4981"/>
<rect x="104.50" y="383.18" width="4.09" height="2.62" fill="#5ba83c"/>
<rect x="104.50" y="380.56" width="4.09" height="2.62" fill="#b0102c"/>
<rect x="117.23" y="383.18" width="4.09" height="2.62" fill="#2c4981"/>
<rect x="129.97" y="375.32" width="4.09" height="10.48" fill="#2c4981"/>
<rect x="129.97" y="372.70" width="4.09" height="2.62" fill="#5ba83c"/>
<rect x="142.70" y="362.22" width="4.09" height="23.58" fill="#2c4981"/>
<rect x="142.70" y="359.60" width="4.09" height="2.62" fill="#5ba83c"/>
<rect x="142.70" y="356.98" width="4.09" height="2.62" fill="#b0102c"/>
<rect x="146.94" y="356.98" width="4.09" height="28.82" fill="#2c4981"/>
<rect x="151.19" y="362.22" width="4.09" height="23.58" fill="#2c4981"/>
<rect x="151.19" y="356.98" width="4.09" height="5.24" fill="#b0102c"/>
<rect x="155.44" y="370.08" width="4.09" height="15.72" fill="#2c4981"/>
<rect x="155.44" y="367.46" width="4.09" height="2.62" fill="#b0102c"/>
<rect x="159.68" y="375.32" width="4.09" height="10.48" fill="#2c4981"/>
<rect x="168.40" y="380.56" width="4.08" height="5.24" fill="#2c4981"/>
<rect x="172.64" y="383.18" width="4.08" height="2.62" fill="#5ba83c"/>
<rect x="176.87" y="383.18" width="4.08" height="2.62" fill="#2c4981"/>
<rect x="176.87" y="380.56" width="4.08" height="2.62" fill="#5ba83c"/>
<rect x="185.34" y="383.18" width="4.08" height="2.62" fill="#2c4981"/>
<rect x="185.34" y="380.56" width="4.08" height="2.62" fill="#b0102c"/>
<rect x="189.58" y="380.56" width="4.08" height="5.24" fill="#2c4981"/>
<rect x="193.81" y="383.18" width="4.08" height="2.62" fill="#2c4981"/>
<rect x="198.05" y="383.18" width="4.08" height="2.62" fill="#2c4981"/>
<rect x="202.28" y="383.18" width="4.08" height="2.62" fill="#2c4981"/>
<rect x="219.22" y="383.18" width="4.08" height="2.62" fill="#5ba83c"/>
<rect x="223.46" y="383.18" width="4.08" height="2.62" fill="#b0102c"/>
<rect x="236.16" y="383.18" width="4.08" height="2.62" fill="#5ba83c"/>
<rect x="240.40" y="383.18" width="4.08" height="2.62" fill="#2c4981"/>
<rect x="244.63" y="380.56" width="4.08" height="5.24" fill="#2c4981"/>
<rect x="248.87" y="375.32" width="4.08" height="10.48" fill="#2c4981"/>
<rect x="270.04" y="380.56" width="4.08" height="5.24" fill="#2c4981"/>
<rect x="274.28" y="383.18" width="4.08" height="2.62" fill="#2c4981"/>
<rect x="286.98" y="383.18" width="4.08" height="2.62" fill="#5ba83c"/>
<rect x="291.22" y="383.18" width="4.08" height="2.62" fill="#2c4981"/>
<rect x="299.69" y="383.18" width="4.08" height="2.62" fill="#2c4981"/>
<rect x="308.16" y="380.56" width="4.08" height="5.24" fill="#2c4981"/>
<rect x="312.39" y="383.18" width="4.08" height="2.62" fill="#2c4981"/>
<rect x="325.10" y="383.18" width="4.08" height="2.62" fill="#2c4981"/>
<rect x="329.33" y="383.18" width="4.08" height="2.62" fill="#2c4981"/>
<rect x="333.57" y="383.18" width="4.08" height="2.62" fill="#5ba83c"/>
<rect x="354.74" y="383.18" width="4.08" height="2.62" fill="#2c4981"/>
<rect x="363.21" y="383.18" width="4.08" height="2.62" fill="#2c4981"/>
<rect x="392.86" y="383.18" width="4.08" height="2.62" fill="#2c4981"/>
<rect x="397.09" y="383.18" width="4.08" height="2.62" fill="#2c4981"/>
<rect x="401.33" y="383.18" width="4.08" height="2.62" fill="#5ba83c"/>
<rect x="409.80" y="383.18" width="4.08" height="2.62" fill="#2c4981"/>
<rect x="414.03" y="383.18" width="4.08" height="2.62" fill="#2c4981"/>
<rect x="414.03" y="359.60" width="4.08" height="23.58" fill="#5ba83c"/>
<rect x="414.03" y="356.98" width="4.08" height="2.62" fill="#b0102c"/>
<rect x="446.80" y="342.00" width="10.00" height="6.40" fill="#2c4981"/>
<text transform="translate(459.80,347.10) scale(0.88,1)" font-size="5.7" text-anchor="start" fill="#111" stroke="#111" stroke-width="0.09" font-weight="normal">frameshift deletion</text>
<rect x="446.80" y="350.20" width="10.00" height="6.40" fill="#5ba83c"/>
<text transform="translate(459.80,355.30) scale(0.88,1)" font-size="5.7" text-anchor="start" fill="#111" stroke="#111" stroke-width="0.09" font-weight="normal">frameshift insertion</text>
<rect x="446.80" y="358.40" width="10.00" height="6.40" fill="#b0102c"/>
<text transform="translate(459.80,363.50) scale(0.88,1)" font-size="5.7" text-anchor="start" fill="#111" stroke="#111" stroke-width="0.09" font-weight="normal">splicing</text>
<text x="6.8" y="414.8" font-size="10.4" font-weight="bold" fill="#111" stroke="#111" stroke-width="0.35">D</text>
<text transform="translate(26.00,456.50) rotate(-90)" font-size="8.0" text-anchor="middle" fill="#111" stroke="#111" stroke-width="0.32" textLength="44.6" lengthAdjust="spacingAndGlyphs">Pathogen reads</text>
<line x1="46.40" y1="422.40" x2="46.40" y2="453.60" stroke="#1a1a1a" stroke-width="0.95"/>
<line x1="43.40" y1="424.30" x2="46.40" y2="424.30" stroke="#1a1a1a" stroke-width="0.85"/>
<text transform="translate(40.00,426.45) scale(1.0,1)" font-size="6.2" text-anchor="end" fill="#222" stroke="#222" stroke-width="0.05" font-weight="normal">12</text>
<line x1="43.40" y1="433.60" x2="46.40" y2="433.60" stroke="#1a1a1a" stroke-width="0.85"/>
<text transform="translate(40.00,435.75) scale(1.0,1)" font-size="6.2" text-anchor="end" fill="#222" stroke="#222" stroke-width="0.05" font-weight="normal">9</text>
<line x1="43.40" y1="442.90" x2="46.40" y2="442.90" stroke="#1a1a1a" stroke-width="0.85"/>
<text transform="translate(40.00,445.05) scale(1.0,1)" font-size="6.2" text-anchor="end" fill="#222" stroke="#222" stroke-width="0.05" font-weight="normal">6</text>
<line x1="43.40" y1="452.20" x2="46.40" y2="452.20" stroke="#1a1a1a" stroke-width="0.85"/>
<text transform="translate(40.00,454.35) scale(1.0,1)" font-size="6.2" text-anchor="end" fill="#222" stroke="#222" stroke-width="0.05" font-weight="normal">3</text>
<line x1="46.10" y1="453.60" x2="48.00" y2="454.80" stroke="#1a1a1a" stroke-width="0.8"/>
<line x1="46.40" y1="460.20" x2="46.40" y2="489.80" stroke="#1a1a1a" stroke-width="0.95"/>
<line x1="43.40" y1="460.80" x2="46.40" y2="460.80" stroke="#1a1a1a" stroke-width="0.85"/>
<text transform="translate(40.00,462.95) scale(1.0,1)" font-size="6.2" text-anchor="end" fill="#222" stroke="#222" stroke-width="0.05" font-weight="normal">2.5</text>
<line x1="43.40" y1="466.40" x2="46.40" y2="466.40" stroke="#1a1a1a" stroke-width="0.85"/>
<text transform="translate(40.00,468.55) scale(1.0,1)" font-size="6.2" text-anchor="end" fill="#222" stroke="#222" stroke-width="0.05" font-weight="normal">2.0</text>
<line x1="43.40" y1="472.00" x2="46.40" y2="472.00" stroke="#1a1a1a" stroke-width="0.85"/>
<text transform="translate(40.00,474.15) scale(1.0,1)" font-size="6.2" text-anchor="end" fill="#222" stroke="#222" stroke-width="0.05" font-weight="normal">1.5</text>
<line x1="43.40" y1="477.50" x2="46.40" y2="477.50" stroke="#1a1a1a" stroke-width="0.85"/>
<text transform="translate(40.00,479.65) scale(1.0,1)" font-size="6.2" text-anchor="end" fill="#222" stroke="#222" stroke-width="0.05" font-weight="normal">1.0</text>
<line x1="43.40" y1="483.10" x2="46.40" y2="483.10" stroke="#1a1a1a" stroke-width="0.85"/>
<text transform="translate(40.00,485.25) scale(1.0,1)" font-size="6.2" text-anchor="end" fill="#222" stroke="#222" stroke-width="0.05" font-weight="normal">0.5</text>
<line x1="43.40" y1="488.70" x2="46.40" y2="488.70" stroke="#1a1a1a" stroke-width="0.85"/>
<text transform="translate(40.00,490.85) scale(1.0,1)" font-size="6.2" text-anchor="end" fill="#222" stroke="#222" stroke-width="0.05" font-weight="normal">0.0</text>
<line x1="46.20" y1="460.40" x2="48.20" y2="460.40" stroke="#1a1a1a" stroke-width="0.8"/>
<rect x="57.80" y="463.50" width="4.09" height="25.80" fill="#2c4981"/>
<rect x="57.80" y="460.50" width="4.09" height="3.00" fill="#b0102c"/>
<rect x="62.04" y="488.20" width="4.09" height="1.10" fill="#d8c040"/>
<rect x="62.04" y="486.70" width="4.09" height="1.50" fill="#b0102c"/>
<rect x="66.29" y="487.50" width="4.09" height="1.80" fill="#b0102c"/>
<rect x="70.53" y="487.30" width="4.09" height="2.00" fill="#b0102c"/>
<rect x="74.78" y="486.00" width="4.09" height="3.30" fill="#b0102c"/>
<rect x="79.03" y="488.40" width="4.09" height="0.90" fill="#e6a9b0"/>
<rect x="83.27" y="486.50" width="4.09" height="2.80" fill="#b0102c"/>
<rect x="87.52" y="488.00" width="4.09" height="1.30" fill="#d8c040"/>
<rect x="87.52" y="479.70" width="4.09" height="8.30" fill="#b0102c"/>
<rect x="91.76" y="488.00" width="4.09" height="1.30" fill="#b0102c"/>
<rect x="96.00" y="488.00" width="4.09" height="1.30" fill="#e99a22"/>
<rect x="96.00" y="486.50" width="4.09" height="1.50" fill="#b0102c"/>
<rect x="100.25" y="460.50" width="4.09" height="28.80" fill="#5ba83c"/>
<rect x="104.50" y="488.30" width="4.09" height="1.00" fill="#b0102c"/>
<rect x="108.74" y="487.60" width="4.09" height="1.70" fill="#b0102c"/>
<rect x="112.98" y="488.30" width="4.09" height="1.00" fill="#b0102c"/>
<rect x="117.23" y="488.30" width="4.09" height="1.00" fill="#e6a9b0"/>
<rect x="121.47" y="488.30" width="4.09" height="1.00" fill="#2c4981"/>
<rect x="121.47" y="486.60" width="4.09" height="1.70" fill="#b0102c"/>
<rect x="125.72" y="488.00" width="4.09" height="1.30" fill="#e99a22"/>
<rect x="125.72" y="486.30" width="4.09" height="1.70" fill="#b0102c"/>
<rect x="129.97" y="488.00" width="4.09" height="1.30" fill="#e6a9b0"/>
<rect x="134.21" y="484.90" width="4.09" height="4.40" fill="#b0102c"/>
<rect x="138.45" y="487.50" width="4.09" height="1.80" fill="#b0102c"/>
<rect x="142.70" y="488.30" width="4.09" height="1.00" fill="#e99a22"/>
<rect x="142.70" y="484.50" width="4.09" height="3.80" fill="#b0102c"/>
<rect x="146.94" y="487.50" width="4.09" height="1.80" fill="#2c4981"/>
<rect x="151.19" y="488.40" width="4.09" height="0.90" fill="#e6a9b0"/>
<rect x="155.44" y="488.30" width="4.09" height="1.00" fill="#b0102c"/>
<rect x="159.68" y="487.90" width="4.09" height="1.40" fill="#2c4981"/>
<rect x="100.25" y="442.20" width="4.09" height="11.60" fill="#5ba83c"/>
<rect x="100.25" y="432.70" width="4.09" height="9.50" fill="#e99a22"/>
<rect x="100.25" y="430.80" width="4.09" height="1.90" fill="#b0102c"/>
<rect x="168.40" y="488.40" width="4.08" height="0.90" fill="#e6a9b0"/>
<rect x="172.64" y="488.40" width="4.08" height="0.90" fill="#e99a22"/>
<rect x="172.64" y="487.60" width="4.08" height="0.80" fill="#b0102c"/>
<rect x="176.87" y="488.30" width="4.08" height="1.00" fill="#e99a22"/>
<rect x="176.87" y="485.30" width="4.08" height="3.00" fill="#b0102c"/>
<rect x="181.11" y="487.90" width="4.08" height="1.40" fill="#5ba83c"/>
<rect x="181.11" y="487.10" width="4.08" height="0.80" fill="#b0102c"/>
<rect x="185.34" y="488.30" width="4.08" height="1.00" fill="#e6a9b0"/>
<rect x="189.58" y="487.00" width="4.08" height="2.30" fill="#e99a22"/>
<rect x="189.58" y="485.30" width="4.08" height="1.70" fill="#b0102c"/>
<rect x="193.81" y="487.50" width="4.08" height="1.80" fill="#e99a22"/>
<rect x="193.81" y="486.30" width="4.08" height="1.20" fill="#b0102c"/>
<rect x="198.05" y="487.80" width="4.08" height="1.50" fill="#e99a22"/>
<rect x="202.28" y="487.80" width="4.08" height="1.50" fill="#b0102c"/>
<rect x="210.75" y="487.80" width="4.08" height="1.50" fill="#5ba83c"/>
<rect x="210.75" y="486.30" width="4.08" height="1.50" fill="#b0102c"/>
<rect x="214.99" y="488.40" width="4.08" height="0.90" fill="#e99a22"/>
<rect x="214.99" y="487.30" width="4.08" height="1.10" fill="#b0102c"/>
<rect x="219.22" y="488.20" width="4.08" height="1.10" fill="#e99a22"/>
<rect x="219.22" y="487.30" width="4.08" height="0.90" fill="#b0102c"/>
<rect x="227.69" y="488.00" width="4.08" height="1.30" fill="#b0102c"/>
<rect x="231.93" y="480.10" width="4.08" height="9.20" fill="#5ba83c"/>
<rect x="231.93" y="478.20" width="4.08" height="1.90" fill="#e99a22"/>
<rect x="231.93" y="476.00" width="4.08" height="2.20" fill="#b0102c"/>
<rect x="236.16" y="488.20" width="4.08" height="1.10" fill="#e99a22"/>
<rect x="236.16" y="487.30" width="4.08" height="0.90" fill="#b0102c"/>
<rect x="240.40" y="488.30" width="4.08" height="1.00" fill="#e99a22"/>
<rect x="244.63" y="488.20" width="4.08" height="1.10" fill="#e99a22"/>
<rect x="244.63" y="486.80" width="4.08" height="1.40" fill="#b0102c"/>
<rect x="248.87" y="488.30" width="4.08" height="1.00" fill="#e99a22"/>
<rect x="248.87" y="487.30" width="4.08" height="1.00" fill="#b0102c"/>
<rect x="253.10" y="488.30" width="4.08" height="1.00" fill="#e99a22"/>
<rect x="253.10" y="487.30" width="4.08" height="1.00" fill="#b0102c"/>
<rect x="257.34" y="488.30" width="4.08" height="1.00" fill="#e99a22"/>
<rect x="257.34" y="480.60" width="4.08" height="7.70" fill="#2c4981"/>
<rect x="257.34" y="478.80" width="4.08" height="1.80" fill="#e99a22"/>
<rect x="261.57" y="485.90" width="4.08" height="3.40" fill="#b0102c"/>
<rect x="265.81" y="487.30" width="4.08" height="2.00" fill="#e99a22"/>
<rect x="270.04" y="487.30" width="4.08" height="2.00" fill="#5ba83c"/>
<rect x="270.04" y="483.90" width="4.08" height="3.40" fill="#e99a22"/>
<rect x="270.04" y="481.00" width="4.08" height="2.90" fill="#b0102c"/>
<rect x="274.28" y="488.30" width="4.08" height="1.00" fill="#e99a22"/>
<rect x="278.51" y="487.70" width="4.08" height="1.60" fill="#b0102c"/>
<rect x="282.75" y="486.00" width="4.08" height="3.30" fill="#b0102c"/>
<rect x="286.98" y="487.30" width="4.08" height="2.00" fill="#e99a22"/>
<rect x="291.22" y="486.30" width="4.08" height="3.00" fill="#e99a22"/>
<rect x="291.22" y="483.90" width="4.08" height="2.40" fill="#b0102c"/>
<rect x="295.45" y="484.90" width="4.08" height="4.40" fill="#e99a22"/>
<rect x="295.45" y="479.10" width="4.08" height="5.80" fill="#b0102c"/>
<rect x="299.69" y="488.60" width="4.08" height="0.70" fill="#5ba83c"/>
<rect x="303.92" y="486.20" width="4.08" height="3.10" fill="#e99a22"/>
<rect x="303.92" y="485.00" width="4.08" height="1.20" fill="#b0102c"/>
<rect x="308.16" y="488.60" width="4.08" height="0.70" fill="#5ba83c"/>
<rect x="312.39" y="488.20" width="4.08" height="1.10" fill="#e6a9b0"/>
<rect x="316.62" y="487.50" width="4.08" height="1.80" fill="#e99a22"/>
<rect x="316.62" y="486.00" width="4.08" height="1.50" fill="#b0102c"/>
<rect x="320.86" y="488.20" width="4.08" height="1.10" fill="#2c4981"/>
<rect x="320.86" y="483.70" width="4.08" height="4.50" fill="#5ba83c"/>
<rect x="320.86" y="479.70" width="4.08" height="4.00" fill="#e99a22"/>
<rect x="320.86" y="476.50" width="4.08" height="3.20" fill="#b0102c"/>
<rect x="325.10" y="488.40" width="4.08" height="0.90" fill="#e6a9b0"/>
<rect x="329.33" y="487.80" width="4.08" height="1.50" fill="#5ba83c"/>
<rect x="329.33" y="486.60" width="4.08" height="1.20" fill="#b0102c"/>
<rect x="333.57" y="487.90" width="4.08" height="1.40" fill="#e99a22"/>
<rect x="333.57" y="486.60" width="4.08" height="1.30" fill="#b0102c"/>
<rect x="337.80" y="487.90" width="4.08" height="1.40" fill="#e99a22"/>
<rect x="337.80" y="486.80" width="4.08" height="1.10" fill="#b0102c"/>
<rect x="342.04" y="487.90" width="4.08" height="1.40" fill="#b0102c"/>
<rect x="350.50" y="486.60" width="4.08" height="2.70" fill="#e99a22"/>
<rect x="354.74" y="486.30" width="4.08" height="3.00" fill="#e99a22"/>
<rect x="354.74" y="485.30" width="4.08" height="1.00" fill="#b0102c"/>
<rect x="358.98" y="486.90" width="4.08" height="2.40" fill="#e99a22"/>
<rect x="358.98" y="485.90" width="4.08" height="1.00" fill="#b0102c"/>
<rect x="363.21" y="488.30" width="4.08" height="1.00" fill="#8fb8d8"/>
<rect x="363.21" y="486.90" width="4.08" height="1.40" fill="#b0102c"/>
<rect x="367.45" y="487.90" width="4.08" height="1.40" fill="#e6a9b0"/>
<rect x="371.68" y="486.00" width="4.08" height="3.30" fill="#b0102c"/>
<rect x="375.92" y="487.90" width="4.08" height="1.40" fill="#e99a22"/>
<rect x="375.92" y="485.00" width="4.08" height="2.90" fill="#b0102c"/>
<rect x="380.15" y="488.30" width="4.08" height="1.00" fill="#5ba83c"/>
<rect x="380.15" y="486.90" width="4.08" height="1.40" fill="#e99a22"/>
<rect x="380.15" y="485.00" width="4.08" height="1.90" fill="#b0102c"/>
<rect x="384.38" y="488.30" width="4.08" height="1.00" fill="#b0102c"/>
<rect x="384.38" y="486.30" width="4.08" height="2.00" fill="#e99a22"/>
<rect x="384.38" y="485.00" width="4.08" height="1.30" fill="#b0102c"/>
<rect x="388.62" y="486.70" width="4.08" height="2.60" fill="#b0102c"/>
<rect x="392.86" y="488.30" width="4.08" height="1.00" fill="#5ba83c"/>
<rect x="392.86" y="486.90" width="4.08" height="1.40" fill="#e99a22"/>
<rect x="392.86" y="484.50" width="4.08" height="2.40" fill="#b0102c"/>
<rect x="397.09" y="487.40" width="4.08" height="1.90" fill="#b0102c"/>
<rect x="401.33" y="488.30" width="4.08" height="1.00" fill="#b0102c"/>
<rect x="401.33" y="486.40" width="4.08" height="1.90" fill="#e99a22"/>
<rect x="401.33" y="484.50" width="4.08" height="1.90" fill="#b0102c"/>
<rect x="405.56" y="486.40" width="4.08" height="2.90" fill="#b0102c"/>
<rect x="409.80" y="485.30" width="4.08" height="4.00" fill="#e99a22"/>
<rect x="409.80" y="483.60" width="4.08" height="1.70" fill="#b0102c"/>
<rect x="414.03" y="487.90" width="4.08" height="1.40" fill="#5ba83c"/>
<rect x="414.03" y="481.60" width="4.08" height="6.30" fill="#e99a22"/>
<rect x="414.03" y="478.50" width="4.08" height="3.10" fill="#b0102c"/>
<rect x="418.26" y="486.00" width="4.08" height="3.30" fill="#b0102c"/>
<rect x="446.80" y="445.40" width="10.00" height="6.40" fill="#2c4981"/>
<text transform="translate(459.80,450.50) scale(0.88,1)" font-size="5.7" text-anchor="start" fill="#111" stroke="#111" stroke-width="0.09" font-weight="normal">Herpesviridae</text>
<rect x="446.80" y="453.70" width="10.00" height="6.40" fill="#5ba83c"/>
<text transform="translate(459.80,458.80) scale(0.88,1)" font-size="5.7" text-anchor="start" fill="#111" stroke="#111" stroke-width="0.09" font-weight="normal">Siphoviridae</text>
<rect x="446.80" y="462.00" width="10.00" height="6.40" fill="#e99a22"/>
<text transform="translate(459.80,467.10) scale(0.88,1)" font-size="5.7" text-anchor="start" fill="#111" stroke="#111" stroke-width="0.09" font-weight="normal">Myoviridae</text>
<rect x="446.80" y="470.30" width="10.00" height="6.40" fill="#b0102c"/>
<text transform="translate(459.80,475.40) scale(0.88,1)" font-size="5.7" text-anchor="start" fill="#111" stroke="#111" stroke-width="0.09" font-weight="normal">Other viruses</text>
<text transform="translate(459.80,481.80) scale(0.88,1)" font-size="5.7" text-anchor="start" fill="#111" stroke="#111" stroke-width="0.09" font-weight="normal">(w/o phiX174)</text>
<rect x="0.6" y="0.6" width="518.8" height="498.8" fill="none" stroke="#000" stroke-width="1.3"/>
</svg>
</body></html>
